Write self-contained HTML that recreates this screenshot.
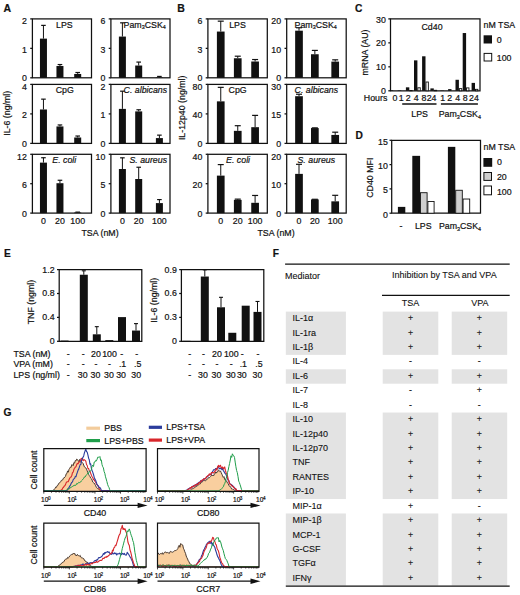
<!DOCTYPE html>
<html><head><meta charset="utf-8"><style>
html,body{margin:0;padding:0;background:#fff;}
body{width:520px;height:595px;overflow:hidden;}
svg{display:block;font-family:"Liberation Sans", sans-serif;}
text{stroke:#111;stroke-width:0.2px;paint-order:stroke;}
text.t{stroke-width:0.1px;}
</style></head><body>
<svg width="520" height="595" viewBox="0 0 520 595">
<text x="3.60" y="11.90" font-size="10.5" text-anchor="start" font-weight="bold" fill="#111">A</text>
<rect x="32.40" y="18.90" width="59.10" height="58.90" fill="none" stroke="#111" stroke-width="1.25"/>
<line x1="30.20" y1="77.80" x2="32.40" y2="77.80" stroke="#111" stroke-width="1.25"/>
<text x="26.80" y="81.25" font-size="8.8" text-anchor="end" fill="#111">0</text>
<line x1="30.20" y1="48.35" x2="32.40" y2="48.35" stroke="#111" stroke-width="1.25"/>
<text x="26.80" y="52.70" font-size="8.8" text-anchor="end" fill="#111">1</text>
<line x1="30.20" y1="18.90" x2="32.40" y2="18.90" stroke="#111" stroke-width="1.25"/>
<text x="26.80" y="24.15" font-size="8.8" text-anchor="end" fill="#111">2</text>
<line x1="43.45" y1="25.38" x2="43.45" y2="38.63" stroke="#111" stroke-width="1.0"/>
<line x1="41.15" y1="25.38" x2="45.75" y2="25.38" stroke="#111" stroke-width="1.2"/>
<rect x="39.95" y="38.63" width="7.00" height="39.17" fill="#111"/>
<line x1="59.95" y1="64.55" x2="59.95" y2="66.02" stroke="#111" stroke-width="1.0"/>
<line x1="57.65" y1="64.55" x2="62.25" y2="64.55" stroke="#111" stroke-width="1.2"/>
<rect x="56.45" y="66.02" width="7.00" height="11.78" fill="#111"/>
<line x1="77.70" y1="72.50" x2="77.70" y2="73.97" stroke="#111" stroke-width="1.0"/>
<line x1="75.40" y1="72.50" x2="80.00" y2="72.50" stroke="#111" stroke-width="1.2"/>
<rect x="74.20" y="73.97" width="7.00" height="3.83" fill="#111"/>
<text x="56.10" y="27.50" font-size="8.8" text-anchor="start" fill="#111">LPS</text>
<rect x="110.90" y="18.90" width="59.10" height="58.90" fill="none" stroke="#111" stroke-width="1.25"/>
<line x1="108.70" y1="77.80" x2="110.90" y2="77.80" stroke="#111" stroke-width="1.25"/>
<text x="105.30" y="81.25" font-size="8.8" text-anchor="end" fill="#111">0</text>
<line x1="108.70" y1="48.35" x2="110.90" y2="48.35" stroke="#111" stroke-width="1.25"/>
<text x="105.30" y="52.70" font-size="8.8" text-anchor="end" fill="#111">3</text>
<line x1="108.70" y1="18.90" x2="110.90" y2="18.90" stroke="#111" stroke-width="1.25"/>
<text x="105.30" y="24.15" font-size="8.8" text-anchor="end" fill="#111">6</text>
<line x1="122.40" y1="22.83" x2="122.40" y2="36.57" stroke="#111" stroke-width="1.0"/>
<line x1="120.10" y1="22.83" x2="124.70" y2="22.83" stroke="#111" stroke-width="1.2"/>
<rect x="118.90" y="36.57" width="7.00" height="41.23" fill="#111"/>
<line x1="138.70" y1="62.09" x2="138.70" y2="65.53" stroke="#111" stroke-width="1.0"/>
<line x1="136.40" y1="62.09" x2="141.00" y2="62.09" stroke="#111" stroke-width="1.2"/>
<rect x="135.20" y="65.53" width="7.00" height="12.27" fill="#111"/>
<line x1="159.40" y1="76.43" x2="159.40" y2="77.41" stroke="#111" stroke-width="1.0"/>
<line x1="157.10" y1="76.43" x2="161.70" y2="76.43" stroke="#111" stroke-width="1.2"/>
<rect x="155.90" y="77.41" width="7.00" height="0.39" fill="#111"/>
<text x="123.60" y="27.50" font-size="8.8" text-anchor="start" fill="#111">Pam<tspan font-size="5.4" dy="1.9">3</tspan><tspan dy="-1.9">CSK</tspan><tspan font-size="5.4" dy="1.9">4</tspan></text>
<rect x="32.40" y="84.40" width="59.10" height="59.00" fill="none" stroke="#111" stroke-width="1.25"/>
<line x1="30.20" y1="143.40" x2="32.40" y2="143.40" stroke="#111" stroke-width="1.25"/>
<text x="26.80" y="146.85" font-size="8.8" text-anchor="end" fill="#111">0</text>
<line x1="30.20" y1="113.90" x2="32.40" y2="113.90" stroke="#111" stroke-width="1.25"/>
<text x="26.80" y="118.25" font-size="8.8" text-anchor="end" fill="#111">2</text>
<line x1="30.20" y1="84.40" x2="32.40" y2="84.40" stroke="#111" stroke-width="1.25"/>
<text x="26.80" y="89.65" font-size="8.8" text-anchor="end" fill="#111">4</text>
<line x1="43.45" y1="99.15" x2="43.45" y2="109.48" stroke="#111" stroke-width="1.0"/>
<line x1="41.15" y1="99.15" x2="45.75" y2="99.15" stroke="#111" stroke-width="1.2"/>
<rect x="39.95" y="109.48" width="7.00" height="33.92" fill="#111"/>
<line x1="59.95" y1="124.96" x2="59.95" y2="126.44" stroke="#111" stroke-width="1.0"/>
<line x1="57.65" y1="124.96" x2="62.25" y2="124.96" stroke="#111" stroke-width="1.2"/>
<rect x="56.45" y="126.44" width="7.00" height="16.96" fill="#111"/>
<line x1="77.70" y1="136.03" x2="77.70" y2="137.50" stroke="#111" stroke-width="1.0"/>
<line x1="75.40" y1="136.03" x2="80.00" y2="136.03" stroke="#111" stroke-width="1.2"/>
<rect x="74.20" y="137.50" width="7.00" height="5.90" fill="#111"/>
<text x="55.70" y="93.00" font-size="8.8" text-anchor="start" fill="#111">CpG</text>
<rect x="110.90" y="84.40" width="59.10" height="59.00" fill="none" stroke="#111" stroke-width="1.25"/>
<line x1="108.70" y1="143.40" x2="110.90" y2="143.40" stroke="#111" stroke-width="1.25"/>
<text x="105.30" y="146.85" font-size="8.8" text-anchor="end" fill="#111">0</text>
<line x1="108.70" y1="113.90" x2="110.90" y2="113.90" stroke="#111" stroke-width="1.25"/>
<text x="105.30" y="118.25" font-size="8.8" text-anchor="end" fill="#111">1</text>
<line x1="108.70" y1="84.40" x2="110.90" y2="84.40" stroke="#111" stroke-width="1.25"/>
<text x="105.30" y="89.65" font-size="8.8" text-anchor="end" fill="#111">2</text>
<line x1="122.40" y1="91.19" x2="122.40" y2="108.89" stroke="#111" stroke-width="1.0"/>
<line x1="120.10" y1="91.19" x2="124.70" y2="91.19" stroke="#111" stroke-width="1.2"/>
<rect x="118.90" y="108.89" width="7.00" height="34.52" fill="#111"/>
<line x1="138.70" y1="109.77" x2="138.70" y2="111.39" stroke="#111" stroke-width="1.0"/>
<line x1="136.40" y1="109.77" x2="141.00" y2="109.77" stroke="#111" stroke-width="1.2"/>
<rect x="135.20" y="111.39" width="7.00" height="32.01" fill="#111"/>
<line x1="159.40" y1="135.14" x2="159.40" y2="138.09" stroke="#111" stroke-width="1.0"/>
<line x1="157.10" y1="135.14" x2="161.70" y2="135.14" stroke="#111" stroke-width="1.2"/>
<rect x="155.90" y="138.09" width="7.00" height="5.31" fill="#111"/>
<text x="123.60" y="93.00" font-size="8.8" text-anchor="start" font-style="italic" fill="#111">C. albicans</text>
<rect x="32.40" y="154.30" width="59.10" height="58.80" fill="none" stroke="#111" stroke-width="1.25"/>
<line x1="30.20" y1="213.10" x2="32.40" y2="213.10" stroke="#111" stroke-width="1.25"/>
<text x="26.80" y="216.55" font-size="8.8" text-anchor="end" fill="#111">0</text>
<line x1="30.20" y1="183.70" x2="32.40" y2="183.70" stroke="#111" stroke-width="1.25"/>
<text x="26.80" y="188.05" font-size="8.8" text-anchor="end" fill="#111">6</text>
<line x1="30.20" y1="154.30" x2="32.40" y2="154.30" stroke="#111" stroke-width="1.25"/>
<text x="26.80" y="159.55" font-size="8.8" text-anchor="end" fill="#111">12</text>
<line x1="43.45" y1="157.73" x2="43.45" y2="162.63" stroke="#111" stroke-width="1.0"/>
<line x1="41.15" y1="157.73" x2="45.75" y2="157.73" stroke="#111" stroke-width="1.2"/>
<rect x="39.95" y="162.63" width="7.00" height="50.47" fill="#111"/>
<line x1="59.95" y1="180.27" x2="59.95" y2="183.21" stroke="#111" stroke-width="1.0"/>
<line x1="57.65" y1="180.27" x2="62.25" y2="180.27" stroke="#111" stroke-width="1.2"/>
<rect x="56.45" y="183.21" width="7.00" height="29.89" fill="#111"/>
<line x1="77.70" y1="212.12" x2="77.70" y2="212.51" stroke="#111" stroke-width="1.0"/>
<line x1="75.40" y1="212.12" x2="80.00" y2="212.12" stroke="#111" stroke-width="1.2"/>
<rect x="74.20" y="212.51" width="7.00" height="0.59" fill="#111"/>
<text x="52.30" y="162.90" font-size="8.8" text-anchor="start" font-style="italic" fill="#111">E. coli</text>
<rect x="110.90" y="154.30" width="59.10" height="58.80" fill="none" stroke="#111" stroke-width="1.25"/>
<line x1="108.70" y1="213.10" x2="110.90" y2="213.10" stroke="#111" stroke-width="1.25"/>
<text x="105.30" y="216.55" font-size="8.8" text-anchor="end" fill="#111">0</text>
<line x1="108.70" y1="183.70" x2="110.90" y2="183.70" stroke="#111" stroke-width="1.25"/>
<text x="105.30" y="188.05" font-size="8.8" text-anchor="end" fill="#111">5</text>
<line x1="108.70" y1="154.30" x2="110.90" y2="154.30" stroke="#111" stroke-width="1.25"/>
<text x="105.30" y="159.55" font-size="8.8" text-anchor="end" fill="#111">10</text>
<line x1="122.40" y1="157.83" x2="122.40" y2="169.00" stroke="#111" stroke-width="1.0"/>
<line x1="120.10" y1="157.83" x2="124.70" y2="157.83" stroke="#111" stroke-width="1.2"/>
<rect x="118.90" y="169.00" width="7.00" height="44.10" fill="#111"/>
<line x1="138.70" y1="167.24" x2="138.70" y2="179.00" stroke="#111" stroke-width="1.0"/>
<line x1="136.40" y1="167.24" x2="141.00" y2="167.24" stroke="#111" stroke-width="1.2"/>
<rect x="135.20" y="179.00" width="7.00" height="34.10" fill="#111"/>
<line x1="159.40" y1="199.58" x2="159.40" y2="203.10" stroke="#111" stroke-width="1.0"/>
<line x1="157.10" y1="199.58" x2="161.70" y2="199.58" stroke="#111" stroke-width="1.2"/>
<rect x="155.90" y="203.10" width="7.00" height="10.00" fill="#111"/>
<text x="129.40" y="162.90" font-size="8.8" text-anchor="start" font-style="italic" fill="#111">S. aureus</text>
<text x="43.45" y="223.90" font-size="8.8" text-anchor="middle" fill="#111">0</text>
<text x="59.95" y="223.90" font-size="8.8" text-anchor="middle" fill="#111">20</text>
<text x="77.70" y="223.90" font-size="8.8" text-anchor="middle" fill="#111">100</text>
<text x="122.40" y="223.90" font-size="8.8" text-anchor="middle" fill="#111">0</text>
<text x="138.70" y="223.90" font-size="8.8" text-anchor="middle" fill="#111">20</text>
<text x="159.40" y="223.90" font-size="8.8" text-anchor="middle" fill="#111">100</text>
<text x="100.00" y="236.20" font-size="8.8" text-anchor="middle" fill="#111">TSA (nM)</text>
<text x="10.00" y="113.30" font-size="8.8" text-anchor="middle" fill="#111" transform="rotate(-90 10.0 113.3)">IL-6 (ng/ml)</text>
<text x="177.30" y="11.90" font-size="10.5" text-anchor="start" font-weight="bold" fill="#111">B</text>
<rect x="207.90" y="18.90" width="59.40" height="58.90" fill="none" stroke="#111" stroke-width="1.25"/>
<line x1="205.70" y1="77.80" x2="207.90" y2="77.80" stroke="#111" stroke-width="1.25"/>
<text x="202.30" y="81.25" font-size="8.8" text-anchor="end" fill="#111">0</text>
<line x1="205.70" y1="48.35" x2="207.90" y2="48.35" stroke="#111" stroke-width="1.25"/>
<text x="202.30" y="52.70" font-size="8.8" text-anchor="end" fill="#111">3</text>
<line x1="205.70" y1="18.90" x2="207.90" y2="18.90" stroke="#111" stroke-width="1.25"/>
<text x="202.30" y="24.15" font-size="8.8" text-anchor="end" fill="#111">6</text>
<line x1="220.75" y1="21.16" x2="220.75" y2="31.56" stroke="#111" stroke-width="1.0"/>
<line x1="217.75" y1="21.16" x2="223.75" y2="21.16" stroke="#111" stroke-width="1.2"/>
<rect x="216.90" y="31.56" width="7.70" height="46.24" fill="#111"/>
<line x1="237.75" y1="56.20" x2="237.75" y2="58.26" stroke="#111" stroke-width="1.0"/>
<line x1="234.75" y1="56.20" x2="240.75" y2="56.20" stroke="#111" stroke-width="1.2"/>
<rect x="233.90" y="58.26" width="7.70" height="19.54" fill="#111"/>
<line x1="255.10" y1="59.54" x2="255.10" y2="61.50" stroke="#111" stroke-width="1.0"/>
<line x1="252.10" y1="59.54" x2="258.10" y2="59.54" stroke="#111" stroke-width="1.2"/>
<rect x="251.25" y="61.50" width="7.70" height="16.30" fill="#111"/>
<text x="229.20" y="27.50" font-size="8.8" text-anchor="start" fill="#111">LPS</text>
<rect x="286.70" y="18.90" width="59.50" height="58.90" fill="none" stroke="#111" stroke-width="1.25"/>
<line x1="284.50" y1="77.80" x2="286.70" y2="77.80" stroke="#111" stroke-width="1.25"/>
<text x="281.10" y="81.25" font-size="8.8" text-anchor="end" fill="#111">0</text>
<line x1="284.50" y1="48.35" x2="286.70" y2="48.35" stroke="#111" stroke-width="1.25"/>
<text x="281.10" y="52.70" font-size="8.8" text-anchor="end" fill="#111">10</text>
<line x1="284.50" y1="18.90" x2="286.70" y2="18.90" stroke="#111" stroke-width="1.25"/>
<text x="281.10" y="24.15" font-size="8.8" text-anchor="end" fill="#111">20</text>
<line x1="299.00" y1="27.73" x2="299.00" y2="30.68" stroke="#111" stroke-width="1.0"/>
<line x1="296.00" y1="27.73" x2="302.00" y2="27.73" stroke="#111" stroke-width="1.2"/>
<rect x="295.15" y="30.68" width="7.70" height="47.12" fill="#111"/>
<line x1="314.85" y1="50.41" x2="314.85" y2="54.24" stroke="#111" stroke-width="1.0"/>
<line x1="311.85" y1="50.41" x2="317.85" y2="50.41" stroke="#111" stroke-width="1.2"/>
<rect x="311.00" y="54.24" width="7.70" height="23.56" fill="#111"/>
<line x1="335.20" y1="59.84" x2="335.20" y2="61.60" stroke="#111" stroke-width="1.0"/>
<line x1="332.20" y1="59.84" x2="338.20" y2="59.84" stroke="#111" stroke-width="1.2"/>
<rect x="331.35" y="61.60" width="7.70" height="16.20" fill="#111"/>
<text x="294.60" y="27.50" font-size="8.8" text-anchor="start" fill="#111">Pam<tspan font-size="5.4" dy="1.9">3</tspan><tspan dy="-1.9">CSK</tspan><tspan font-size="5.4" dy="1.9">4</tspan></text>
<rect x="207.90" y="84.40" width="59.40" height="59.00" fill="none" stroke="#111" stroke-width="1.25"/>
<line x1="205.70" y1="143.40" x2="207.90" y2="143.40" stroke="#111" stroke-width="1.25"/>
<text x="202.30" y="146.85" font-size="8.8" text-anchor="end" fill="#111">0</text>
<line x1="205.70" y1="113.90" x2="207.90" y2="113.90" stroke="#111" stroke-width="1.25"/>
<text x="202.30" y="118.25" font-size="8.8" text-anchor="end" fill="#111">40</text>
<line x1="205.70" y1="84.40" x2="207.90" y2="84.40" stroke="#111" stroke-width="1.25"/>
<text x="202.30" y="89.65" font-size="8.8" text-anchor="end" fill="#111">80</text>
<line x1="220.75" y1="87.35" x2="220.75" y2="101.36" stroke="#111" stroke-width="1.0"/>
<line x1="217.75" y1="87.35" x2="223.75" y2="87.35" stroke="#111" stroke-width="1.2"/>
<rect x="216.90" y="101.36" width="7.70" height="42.04" fill="#111"/>
<line x1="237.75" y1="125.70" x2="237.75" y2="130.86" stroke="#111" stroke-width="1.0"/>
<line x1="234.75" y1="125.70" x2="240.75" y2="125.70" stroke="#111" stroke-width="1.2"/>
<rect x="233.90" y="130.86" width="7.70" height="12.54" fill="#111"/>
<line x1="255.10" y1="115.38" x2="255.10" y2="127.18" stroke="#111" stroke-width="1.0"/>
<line x1="252.10" y1="115.38" x2="258.10" y2="115.38" stroke="#111" stroke-width="1.2"/>
<rect x="251.25" y="127.18" width="7.70" height="16.22" fill="#111"/>
<text x="228.60" y="93.00" font-size="8.8" text-anchor="start" fill="#111">CpG</text>
<rect x="286.70" y="84.40" width="59.50" height="59.00" fill="none" stroke="#111" stroke-width="1.25"/>
<line x1="284.50" y1="143.40" x2="286.70" y2="143.40" stroke="#111" stroke-width="1.25"/>
<text x="281.10" y="146.85" font-size="8.8" text-anchor="end" fill="#111">0</text>
<line x1="284.50" y1="113.90" x2="286.70" y2="113.90" stroke="#111" stroke-width="1.25"/>
<text x="281.10" y="118.25" font-size="8.8" text-anchor="end" fill="#111">15</text>
<line x1="284.50" y1="84.40" x2="286.70" y2="84.40" stroke="#111" stroke-width="1.25"/>
<text x="281.10" y="89.65" font-size="8.8" text-anchor="end" fill="#111">30</text>
<line x1="299.00" y1="94.23" x2="299.00" y2="96.20" stroke="#111" stroke-width="1.0"/>
<line x1="296.00" y1="94.23" x2="302.00" y2="94.23" stroke="#111" stroke-width="1.2"/>
<rect x="295.15" y="96.20" width="7.70" height="47.20" fill="#111"/>
<line x1="314.85" y1="127.86" x2="314.85" y2="128.06" stroke="#111" stroke-width="1.0"/>
<line x1="311.85" y1="127.86" x2="317.85" y2="127.86" stroke="#111" stroke-width="1.2"/>
<rect x="311.00" y="128.06" width="7.70" height="15.34" fill="#111"/>
<line x1="335.20" y1="132.19" x2="335.20" y2="134.94" stroke="#111" stroke-width="1.0"/>
<line x1="332.20" y1="132.19" x2="338.20" y2="132.19" stroke="#111" stroke-width="1.2"/>
<rect x="331.35" y="134.94" width="7.70" height="8.46" fill="#111"/>
<text x="294.60" y="93.00" font-size="8.8" text-anchor="start" font-style="italic" fill="#111">C. albicans</text>
<rect x="207.90" y="154.30" width="59.40" height="58.80" fill="none" stroke="#111" stroke-width="1.25"/>
<line x1="205.70" y1="213.10" x2="207.90" y2="213.10" stroke="#111" stroke-width="1.25"/>
<text x="202.30" y="216.55" font-size="8.8" text-anchor="end" fill="#111">0</text>
<line x1="205.70" y1="183.70" x2="207.90" y2="183.70" stroke="#111" stroke-width="1.25"/>
<text x="202.30" y="188.05" font-size="8.8" text-anchor="end" fill="#111">20</text>
<line x1="205.70" y1="154.30" x2="207.90" y2="154.30" stroke="#111" stroke-width="1.25"/>
<text x="202.30" y="159.55" font-size="8.8" text-anchor="end" fill="#111">40</text>
<line x1="220.75" y1="164.59" x2="220.75" y2="175.62" stroke="#111" stroke-width="1.0"/>
<line x1="217.75" y1="164.59" x2="223.75" y2="164.59" stroke="#111" stroke-width="1.2"/>
<rect x="216.90" y="175.62" width="7.70" height="37.48" fill="#111"/>
<line x1="237.75" y1="199.13" x2="237.75" y2="199.87" stroke="#111" stroke-width="1.0"/>
<line x1="234.75" y1="199.13" x2="240.75" y2="199.13" stroke="#111" stroke-width="1.2"/>
<rect x="233.90" y="199.87" width="7.70" height="13.23" fill="#111"/>
<line x1="255.10" y1="195.46" x2="255.10" y2="202.81" stroke="#111" stroke-width="1.0"/>
<line x1="252.10" y1="195.46" x2="258.10" y2="195.46" stroke="#111" stroke-width="1.2"/>
<rect x="251.25" y="202.81" width="7.70" height="10.29" fill="#111"/>
<text x="226.10" y="162.90" font-size="8.8" text-anchor="start" font-style="italic" fill="#111">E. coli</text>
<rect x="286.70" y="154.30" width="59.50" height="58.80" fill="none" stroke="#111" stroke-width="1.25"/>
<line x1="284.50" y1="213.10" x2="286.70" y2="213.10" stroke="#111" stroke-width="1.25"/>
<text x="281.10" y="216.55" font-size="8.8" text-anchor="end" fill="#111">0</text>
<line x1="284.50" y1="183.70" x2="286.70" y2="183.70" stroke="#111" stroke-width="1.25"/>
<text x="281.10" y="188.05" font-size="8.8" text-anchor="end" fill="#111">10</text>
<line x1="284.50" y1="154.30" x2="286.70" y2="154.30" stroke="#111" stroke-width="1.25"/>
<text x="281.10" y="159.55" font-size="8.8" text-anchor="end" fill="#111">20</text>
<line x1="299.00" y1="164.30" x2="299.00" y2="173.88" stroke="#111" stroke-width="1.0"/>
<line x1="296.00" y1="164.30" x2="302.00" y2="164.30" stroke="#111" stroke-width="1.2"/>
<rect x="295.15" y="173.88" width="7.70" height="39.22" fill="#111"/>
<line x1="314.85" y1="199.28" x2="314.85" y2="199.43" stroke="#111" stroke-width="1.0"/>
<line x1="311.85" y1="199.28" x2="317.85" y2="199.28" stroke="#111" stroke-width="1.2"/>
<rect x="311.00" y="199.43" width="7.70" height="13.67" fill="#111"/>
<line x1="335.20" y1="195.31" x2="335.20" y2="201.34" stroke="#111" stroke-width="1.0"/>
<line x1="332.20" y1="195.31" x2="338.20" y2="195.31" stroke="#111" stroke-width="1.2"/>
<rect x="331.35" y="201.34" width="7.70" height="11.76" fill="#111"/>
<text x="297.50" y="162.90" font-size="8.8" text-anchor="start" font-style="italic" fill="#111">S. aureus</text>
<text x="220.75" y="223.90" font-size="8.8" text-anchor="middle" fill="#111">0</text>
<text x="237.75" y="223.90" font-size="8.8" text-anchor="middle" fill="#111">20</text>
<text x="255.10" y="223.90" font-size="8.8" text-anchor="middle" fill="#111">100</text>
<text x="299.00" y="223.90" font-size="8.8" text-anchor="middle" fill="#111">0</text>
<text x="314.85" y="223.90" font-size="8.8" text-anchor="middle" fill="#111">20</text>
<text x="335.20" y="223.90" font-size="8.8" text-anchor="middle" fill="#111">100</text>
<text x="276.00" y="236.20" font-size="8.8" text-anchor="middle" fill="#111">TSA (nM)</text>
<text x="185.30" y="107.80" font-size="8.8" text-anchor="middle" fill="#111" transform="rotate(-90 185.3 107.8)">IL-12p40 (ng/ml)</text>
<text x="355.00" y="12.30" font-size="10.2" text-anchor="start" font-weight="bold" fill="#111">C</text>
<path d="M390.5 18.9 H480.0 V90.8 H390.5 Z" fill="none" stroke="#111" stroke-width="1.25"/>
<line x1="388.30" y1="90.80" x2="390.50" y2="90.80" stroke="#111" stroke-width="1.25"/>
<text x="385.90" y="94.40" font-size="8.8" text-anchor="end" fill="#111">0</text>
<line x1="388.30" y1="66.83" x2="390.50" y2="66.83" stroke="#111" stroke-width="1.25"/>
<text x="385.90" y="70.43" font-size="8.8" text-anchor="end" fill="#111">10</text>
<line x1="388.30" y1="42.87" x2="390.50" y2="42.87" stroke="#111" stroke-width="1.25"/>
<text x="385.90" y="46.47" font-size="8.8" text-anchor="end" fill="#111">20</text>
<line x1="388.30" y1="18.90" x2="390.50" y2="18.90" stroke="#111" stroke-width="1.25"/>
<text x="385.90" y="22.50" font-size="8.8" text-anchor="end" fill="#111">30</text>
<text x="368.40" y="52.50" font-size="8.8" text-anchor="middle" fill="#111" transform="rotate(-90 368.4 52.5)">mRNA (AU)</text>
<text x="421.50" y="29.80" font-size="8.8" text-anchor="start" fill="#111">Cd40</text>
<rect x="389.80" y="90.20" width="3.40" height="0.60" fill="#111"/>
<rect x="397.80" y="90.32" width="3.40" height="0.48" fill="#111"/>
<rect x="405.90" y="87.32" width="3.40" height="3.48" fill="#111"/>
<rect x="409.75" y="90.53" width="2.40" height="0.27" fill="#fff" stroke="#111" stroke-width="0.9"/>
<rect x="414.00" y="60.36" width="3.40" height="30.44" fill="#111"/>
<rect x="417.85" y="87.77" width="2.40" height="3.03" fill="#fff" stroke="#111" stroke-width="0.9"/>
<rect x="422.10" y="56.29" width="3.40" height="34.51" fill="#111"/>
<rect x="425.95" y="82.02" width="2.40" height="8.78" fill="#fff" stroke="#111" stroke-width="0.9"/>
<rect x="430.40" y="88.40" width="3.40" height="2.40" fill="#111"/>
<rect x="434.25" y="90.29" width="2.40" height="0.51" fill="#fff" stroke="#111" stroke-width="0.9"/>
<rect x="440.40" y="90.44" width="3.40" height="0.36" fill="#111"/>
<rect x="448.10" y="89.12" width="3.40" height="1.68" fill="#111"/>
<rect x="455.50" y="79.78" width="3.40" height="11.02" fill="#111"/>
<rect x="459.35" y="88.61" width="2.40" height="2.19" fill="#fff" stroke="#111" stroke-width="0.9"/>
<rect x="462.70" y="33.04" width="3.40" height="57.76" fill="#111"/>
<rect x="466.55" y="87.89" width="2.40" height="2.91" fill="#fff" stroke="#111" stroke-width="0.9"/>
<rect x="471.60" y="82.89" width="3.40" height="7.91" fill="#111"/>
<rect x="475.45" y="89.33" width="2.40" height="1.47" fill="#fff" stroke="#111" stroke-width="0.9"/>
<text x="387.30" y="100.80" font-size="8.8" text-anchor="end" fill="#111">Hours</text>
<text x="395.00" y="100.80" font-size="8.8" text-anchor="middle" fill="#111">0</text>
<text x="401.20" y="100.80" font-size="8.8" text-anchor="middle" fill="#111">1</text>
<text x="408.20" y="100.80" font-size="8.8" text-anchor="middle" fill="#111">2</text>
<text x="416.30" y="100.80" font-size="8.8" text-anchor="middle" fill="#111">4</text>
<text x="424.00" y="100.80" font-size="8.8" text-anchor="middle" fill="#111">8</text>
<text x="431.60" y="100.80" font-size="8.8" text-anchor="middle" fill="#111">24</text>
<text x="442.60" y="100.80" font-size="8.8" text-anchor="middle" fill="#111">1</text>
<text x="449.80" y="100.80" font-size="8.8" text-anchor="middle" fill="#111">2</text>
<text x="457.70" y="100.80" font-size="8.8" text-anchor="middle" fill="#111">4</text>
<text x="465.30" y="100.80" font-size="8.8" text-anchor="middle" fill="#111">8</text>
<text x="474.00" y="100.80" font-size="8.8" text-anchor="middle" fill="#111">24</text>
<line x1="402.20" y1="104.00" x2="436.50" y2="104.00" stroke="#111" stroke-width="1.3"/>
<line x1="440.90" y1="104.00" x2="477.90" y2="104.00" stroke="#111" stroke-width="1.3"/>
<text x="419.60" y="117.00" font-size="8.8" text-anchor="middle" fill="#111">LPS</text>
<text x="438.70" y="117.00" font-size="8.8" text-anchor="start" fill="#111">Pam<tspan font-size="5.4" dy="1.9">3</tspan><tspan dy="-1.9">CSK</tspan><tspan font-size="5.4" dy="1.9">4</tspan></text>
<text x="483.50" y="27.60" font-size="8.8" text-anchor="start" fill="#111">nM TSA</text>
<rect x="483.60" y="35.30" width="8.40" height="8.20" fill="#111"/>
<rect x="484.10" y="53.40" width="7.60" height="7.60" fill="#fff" stroke="#111" stroke-width="1.0"/>
<text x="496.80" y="42.80" font-size="8.8" text-anchor="start" fill="#111">0</text>
<text x="496.80" y="60.80" font-size="8.8" text-anchor="start" fill="#111">100</text>
<text x="355.50" y="139.00" font-size="10.2" text-anchor="start" font-weight="bold" fill="#111">D</text>
<path d="M391.7 140.3 H480.5 V213.2 H391.7 Z" fill="none" stroke="#111" stroke-width="1.25"/>
<line x1="389.50" y1="213.20" x2="391.70" y2="213.20" stroke="#111" stroke-width="1.25"/>
<text x="387.80" y="217.60" font-size="8.8" text-anchor="end" fill="#111">0</text>
<line x1="389.50" y1="188.90" x2="391.70" y2="188.90" stroke="#111" stroke-width="1.25"/>
<text x="387.80" y="193.30" font-size="8.8" text-anchor="end" fill="#111">5</text>
<line x1="389.50" y1="164.60" x2="391.70" y2="164.60" stroke="#111" stroke-width="1.25"/>
<text x="387.80" y="169.00" font-size="8.8" text-anchor="end" fill="#111">10</text>
<line x1="389.50" y1="140.30" x2="391.70" y2="140.30" stroke="#111" stroke-width="1.25"/>
<text x="387.80" y="144.70" font-size="8.8" text-anchor="end" fill="#111">15</text>
<text x="373.00" y="177.70" font-size="8.8" text-anchor="middle" fill="#111" transform="rotate(-90 373.0 177.7)">CD40 MFI</text>
<rect x="397.90" y="206.88" width="7.40" height="6.32" fill="#111"/>
<rect x="412.30" y="155.85" width="7.80" height="57.35" fill="#111"/>
<rect x="420.50" y="192.70" width="6.60" height="20.50" fill="#cfcfcf" stroke="#111" stroke-width="0.9"/>
<rect x="427.90" y="201.45" width="6.20" height="11.75" fill="#fff" stroke="#111" stroke-width="0.9"/>
<rect x="447.90" y="146.86" width="7.40" height="66.34" fill="#111"/>
<rect x="455.70" y="190.27" width="6.60" height="22.93" fill="#cfcfcf" stroke="#111" stroke-width="0.9"/>
<rect x="463.10" y="199.02" width="6.60" height="14.18" fill="#fff" stroke="#111" stroke-width="0.9"/>
<text x="400.90" y="229.40" font-size="8.8" text-anchor="middle" fill="#111">-</text>
<text x="423.20" y="229.40" font-size="8.8" text-anchor="middle" fill="#111">LPS</text>
<text x="438.90" y="229.40" font-size="8.8" text-anchor="start" fill="#111">Pam<tspan font-size="5.4" dy="1.9">3</tspan><tspan dy="-1.9">CSK</tspan><tspan font-size="5.4" dy="1.9">4</tspan></text>
<text x="483.50" y="149.80" font-size="8.8" text-anchor="start" fill="#111">nM TSA</text>
<rect x="483.40" y="158.00" width="8.80" height="8.80" fill="#111"/>
<rect x="483.90" y="172.50" width="7.60" height="7.90" fill="#cfcfcf" stroke="#111" stroke-width="1.0"/>
<rect x="483.90" y="186.00" width="7.60" height="8.80" fill="#fff" stroke="#111" stroke-width="1.0"/>
<text x="496.90" y="165.40" font-size="8.8" text-anchor="start" fill="#111">0</text>
<text x="496.90" y="180.10" font-size="8.8" text-anchor="start" fill="#111">20</text>
<text x="496.90" y="195.20" font-size="8.8" text-anchor="start" fill="#111">100</text>
<text x="4.00" y="257.00" font-size="10.2" text-anchor="start" font-weight="bold" fill="#111">E</text>
<path d="M59.2 269.6 H141.8 V341.3 H59.2 Z" fill="none" stroke="#111" stroke-width="1.25"/>
<line x1="57.00" y1="341.30" x2="59.20" y2="341.30" stroke="#111" stroke-width="1.25"/>
<text x="54.60" y="344.20" font-size="8.8" text-anchor="end" fill="#111">0</text>
<line x1="57.00" y1="317.40" x2="59.20" y2="317.40" stroke="#111" stroke-width="1.25"/>
<text x="54.60" y="320.30" font-size="8.8" text-anchor="end" fill="#111">0.4</text>
<line x1="57.00" y1="293.50" x2="59.20" y2="293.50" stroke="#111" stroke-width="1.25"/>
<text x="54.60" y="296.40" font-size="8.8" text-anchor="end" fill="#111">0.8</text>
<line x1="57.00" y1="269.60" x2="59.20" y2="269.60" stroke="#111" stroke-width="1.25"/>
<text x="54.60" y="272.50" font-size="8.8" text-anchor="end" fill="#111">1.2</text>
<rect x="60.60" y="340.58" width="8.00" height="0.72" fill="#111"/>
<line x1="83.80" y1="270.80" x2="83.80" y2="274.74" stroke="#111" stroke-width="1.0"/>
<line x1="81.80" y1="270.80" x2="85.80" y2="270.80" stroke="#111" stroke-width="1.1"/>
<rect x="79.80" y="274.74" width="8.00" height="66.56" fill="#111"/>
<line x1="96.80" y1="326.66" x2="96.80" y2="334.31" stroke="#111" stroke-width="1.0"/>
<line x1="94.80" y1="326.66" x2="98.80" y2="326.66" stroke="#111" stroke-width="1.1"/>
<rect x="92.80" y="334.31" width="8.00" height="6.99" fill="#111"/>
<rect x="105.30" y="340.11" width="8.00" height="1.19" fill="#111"/>
<rect x="118.00" y="317.10" width="8.00" height="24.20" fill="#111"/>
<line x1="136.00" y1="323.61" x2="136.00" y2="330.55" stroke="#111" stroke-width="1.0"/>
<line x1="134.00" y1="323.61" x2="138.00" y2="323.61" stroke="#111" stroke-width="1.1"/>
<rect x="132.00" y="330.55" width="8.00" height="10.75" fill="#111"/>
<text x="34.30" y="302.00" font-size="8.8" text-anchor="middle" fill="#111" transform="rotate(-90 34.3 302.0)">TNF (ngml)</text>
<path d="M181.4 269.6 H263.8 V341.3 H181.4 Z" fill="none" stroke="#111" stroke-width="1.25"/>
<line x1="179.20" y1="341.30" x2="181.40" y2="341.30" stroke="#111" stroke-width="1.25"/>
<text x="176.80" y="344.20" font-size="8.8" text-anchor="end" fill="#111">0</text>
<line x1="179.20" y1="317.40" x2="181.40" y2="317.40" stroke="#111" stroke-width="1.25"/>
<text x="176.80" y="320.30" font-size="8.8" text-anchor="end" fill="#111">0.3</text>
<line x1="179.20" y1="293.50" x2="181.40" y2="293.50" stroke="#111" stroke-width="1.25"/>
<text x="176.80" y="296.40" font-size="8.8" text-anchor="end" fill="#111">0.6</text>
<line x1="179.20" y1="269.60" x2="181.40" y2="269.60" stroke="#111" stroke-width="1.25"/>
<text x="176.80" y="272.50" font-size="8.8" text-anchor="end" fill="#111">0.9</text>
<rect x="182.50" y="340.82" width="8.00" height="0.48" fill="#111"/>
<line x1="204.80" y1="269.84" x2="204.80" y2="276.53" stroke="#111" stroke-width="1.0"/>
<line x1="202.80" y1="269.84" x2="206.80" y2="269.84" stroke="#111" stroke-width="1.1"/>
<rect x="200.80" y="276.53" width="8.00" height="64.77" fill="#111"/>
<line x1="221.00" y1="297.32" x2="221.00" y2="307.28" stroke="#111" stroke-width="1.0"/>
<line x1="219.00" y1="297.32" x2="223.00" y2="297.32" stroke="#111" stroke-width="1.1"/>
<rect x="217.00" y="307.28" width="8.00" height="34.02" fill="#111"/>
<rect x="228.30" y="332.78" width="8.00" height="8.52" fill="#111"/>
<rect x="241.70" y="305.69" width="8.00" height="35.61" fill="#111"/>
<line x1="257.50" y1="301.47" x2="257.50" y2="311.90" stroke="#111" stroke-width="1.0"/>
<line x1="255.50" y1="301.47" x2="259.50" y2="301.47" stroke="#111" stroke-width="1.1"/>
<rect x="253.50" y="311.90" width="8.00" height="29.40" fill="#111"/>
<text x="157.20" y="300.30" font-size="8.8" text-anchor="middle" fill="#111" transform="rotate(-90 157.2 300.3)">IL-6 (ng/ml)</text>
<text x="13.40" y="356.90" font-size="8.8" text-anchor="start" fill="#111">TSA (nM)</text>
<text x="13.40" y="367.20" font-size="8.8" text-anchor="start" fill="#111">VPA (mM)</text>
<text x="13.40" y="377.70" font-size="8.8" text-anchor="start" fill="#111">LPS (ng/ml)</text>
<text x="68.10" y="356.90" font-size="8.8" text-anchor="middle" fill="#111">-</text>
<text x="83.20" y="356.90" font-size="8.8" text-anchor="middle" fill="#111">-</text>
<text x="95.90" y="356.90" font-size="8.8" text-anchor="middle" fill="#111">20</text>
<text x="109.50" y="356.90" font-size="8.8" text-anchor="middle" fill="#111">100</text>
<text x="121.60" y="356.90" font-size="8.8" text-anchor="middle" fill="#111">-</text>
<text x="136.70" y="356.90" font-size="8.8" text-anchor="middle" fill="#111">-</text>
<text x="68.10" y="367.20" font-size="8.8" text-anchor="middle" fill="#111">-</text>
<text x="83.20" y="367.20" font-size="8.8" text-anchor="middle" fill="#111">-</text>
<text x="95.90" y="367.20" font-size="8.8" text-anchor="middle" fill="#111">-</text>
<text x="109.50" y="367.20" font-size="8.8" text-anchor="middle" fill="#111">-</text>
<text x="122.60" y="367.20" font-size="8.8" text-anchor="middle" fill="#111">.1</text>
<text x="137.70" y="367.20" font-size="8.8" text-anchor="middle" fill="#111">.5</text>
<text x="68.10" y="377.70" font-size="8.8" text-anchor="middle" fill="#111">-</text>
<text x="82.70" y="377.70" font-size="8.8" text-anchor="middle" fill="#111">30</text>
<text x="95.40" y="377.70" font-size="8.8" text-anchor="middle" fill="#111">30</text>
<text x="109.00" y="377.70" font-size="8.8" text-anchor="middle" fill="#111">30</text>
<text x="121.10" y="377.70" font-size="8.8" text-anchor="middle" fill="#111">30</text>
<text x="136.20" y="377.70" font-size="8.8" text-anchor="middle" fill="#111">30</text>
<text x="189.70" y="356.90" font-size="8.8" text-anchor="middle" fill="#111">-</text>
<text x="203.50" y="356.90" font-size="8.8" text-anchor="middle" fill="#111">-</text>
<text x="216.90" y="356.90" font-size="8.8" text-anchor="middle" fill="#111">20</text>
<text x="231.30" y="356.90" font-size="8.8" text-anchor="middle" fill="#111">100</text>
<text x="242.30" y="356.90" font-size="8.8" text-anchor="middle" fill="#111">-</text>
<text x="258.00" y="356.90" font-size="8.8" text-anchor="middle" fill="#111">-</text>
<text x="189.70" y="367.20" font-size="8.8" text-anchor="middle" fill="#111">-</text>
<text x="203.50" y="367.20" font-size="8.8" text-anchor="middle" fill="#111">-</text>
<text x="216.90" y="367.20" font-size="8.8" text-anchor="middle" fill="#111">-</text>
<text x="231.30" y="367.20" font-size="8.8" text-anchor="middle" fill="#111">-</text>
<text x="243.30" y="367.20" font-size="8.8" text-anchor="middle" fill="#111">.1</text>
<text x="259.00" y="367.20" font-size="8.8" text-anchor="middle" fill="#111">.5</text>
<text x="189.70" y="377.70" font-size="8.8" text-anchor="middle" fill="#111">-</text>
<text x="203.00" y="377.70" font-size="8.8" text-anchor="middle" fill="#111">30</text>
<text x="216.40" y="377.70" font-size="8.8" text-anchor="middle" fill="#111">30</text>
<text x="230.80" y="377.70" font-size="8.8" text-anchor="middle" fill="#111">30</text>
<text x="241.80" y="377.70" font-size="8.8" text-anchor="middle" fill="#111">30</text>
<text x="257.50" y="377.70" font-size="8.8" text-anchor="middle" fill="#111">30</text>
<text x="272.80" y="256.80" font-size="10.2" text-anchor="start" font-weight="bold" fill="#111">F</text>
<line x1="285.10" y1="264.20" x2="509.70" y2="264.20" stroke="#111" stroke-width="1.3"/>
<text x="285.10" y="279.00" font-size="9.0" text-anchor="start" class="t" fill="#111">Mediator</text>
<text x="444.30" y="278.30" font-size="9.0" text-anchor="middle" class="t" fill="#111">Inhibition by TSA and VPA</text>
<line x1="382.00" y1="295.40" x2="509.70" y2="295.40" stroke="#111" stroke-width="1.1"/>
<text x="410.60" y="306.30" font-size="9.0" text-anchor="middle" class="t" fill="#111">TSA</text>
<text x="479.90" y="306.30" font-size="9.0" text-anchor="middle" class="t" fill="#111">VPA</text>
<rect x="285.80" y="311.60" width="60.10" height="43.26" fill="#e3e3e3"/>
<rect x="382.70" y="311.60" width="55.60" height="43.26" fill="#e3e3e3"/>
<rect x="451.70" y="311.60" width="55.50" height="43.26" fill="#e3e3e3"/>
<rect x="285.80" y="369.28" width="60.10" height="14.42" fill="#e3e3e3"/>
<rect x="382.70" y="369.28" width="55.60" height="14.42" fill="#e3e3e3"/>
<rect x="451.70" y="369.28" width="55.50" height="14.42" fill="#e3e3e3"/>
<rect x="285.80" y="412.54" width="60.10" height="86.52" fill="#e3e3e3"/>
<rect x="382.70" y="412.54" width="55.60" height="86.52" fill="#e3e3e3"/>
<rect x="451.70" y="412.54" width="55.50" height="86.52" fill="#e3e3e3"/>
<rect x="285.80" y="513.48" width="60.10" height="72.10" fill="#e3e3e3"/>
<rect x="382.70" y="513.48" width="55.60" height="72.10" fill="#e3e3e3"/>
<rect x="451.70" y="513.48" width="55.50" height="72.10" fill="#e3e3e3"/>
<text x="292.40" y="321.20" font-size="9.0" text-anchor="start" class="t" fill="#111">IL-1&#945;</text>
<text x="410.50" y="321.20" font-size="8.8" text-anchor="middle" class="t" fill="#111">+</text>
<text x="479.20" y="321.20" font-size="8.8" text-anchor="middle" class="t" fill="#111">+</text>
<text x="292.40" y="335.62" font-size="9.0" text-anchor="start" class="t" fill="#111">IL-1ra</text>
<text x="410.50" y="335.62" font-size="8.8" text-anchor="middle" class="t" fill="#111">+</text>
<text x="479.20" y="335.62" font-size="8.8" text-anchor="middle" class="t" fill="#111">+</text>
<text x="292.40" y="350.04" font-size="9.0" text-anchor="start" class="t" fill="#111">IL-1&#946;</text>
<text x="410.50" y="350.04" font-size="8.8" text-anchor="middle" class="t" fill="#111">+</text>
<text x="479.20" y="350.04" font-size="8.8" text-anchor="middle" class="t" fill="#111">+</text>
<text x="292.40" y="364.46" font-size="9.0" text-anchor="start" class="t" fill="#111">IL-4</text>
<text x="410.50" y="364.46" font-size="8.8" text-anchor="middle" class="t" fill="#111">-</text>
<text x="479.20" y="364.46" font-size="8.8" text-anchor="middle" class="t" fill="#111">-</text>
<text x="292.40" y="378.88" font-size="9.0" text-anchor="start" class="t" fill="#111">IL-6</text>
<text x="410.50" y="378.88" font-size="8.8" text-anchor="middle" class="t" fill="#111">+</text>
<text x="479.20" y="378.88" font-size="8.8" text-anchor="middle" class="t" fill="#111">+</text>
<text x="292.40" y="393.30" font-size="9.0" text-anchor="start" class="t" fill="#111">IL-7</text>
<text x="410.50" y="393.30" font-size="8.8" text-anchor="middle" class="t" fill="#111">-</text>
<text x="479.20" y="393.30" font-size="8.8" text-anchor="middle" class="t" fill="#111">+</text>
<text x="292.40" y="407.72" font-size="9.0" text-anchor="start" class="t" fill="#111">IL-8</text>
<text x="410.50" y="407.72" font-size="8.8" text-anchor="middle" class="t" fill="#111">-</text>
<text x="479.20" y="407.72" font-size="8.8" text-anchor="middle" class="t" fill="#111">-</text>
<text x="292.40" y="422.14" font-size="9.0" text-anchor="start" class="t" fill="#111">IL-10</text>
<text x="410.50" y="422.14" font-size="8.8" text-anchor="middle" class="t" fill="#111">+</text>
<text x="479.20" y="422.14" font-size="8.8" text-anchor="middle" class="t" fill="#111">+</text>
<text x="292.40" y="436.56" font-size="9.0" text-anchor="start" class="t" fill="#111">IL-12p40</text>
<text x="410.50" y="436.56" font-size="8.8" text-anchor="middle" class="t" fill="#111">+</text>
<text x="479.20" y="436.56" font-size="8.8" text-anchor="middle" class="t" fill="#111">+</text>
<text x="292.40" y="450.98" font-size="9.0" text-anchor="start" class="t" fill="#111">IL-12p70</text>
<text x="410.50" y="450.98" font-size="8.8" text-anchor="middle" class="t" fill="#111">+</text>
<text x="479.20" y="450.98" font-size="8.8" text-anchor="middle" class="t" fill="#111">+</text>
<text x="292.40" y="465.40" font-size="9.0" text-anchor="start" class="t" fill="#111">TNF</text>
<text x="410.50" y="465.40" font-size="8.8" text-anchor="middle" class="t" fill="#111">+</text>
<text x="479.20" y="465.40" font-size="8.8" text-anchor="middle" class="t" fill="#111">+</text>
<text x="292.40" y="479.82" font-size="9.0" text-anchor="start" class="t" fill="#111">RANTES</text>
<text x="410.50" y="479.82" font-size="8.8" text-anchor="middle" class="t" fill="#111">+</text>
<text x="479.20" y="479.82" font-size="8.8" text-anchor="middle" class="t" fill="#111">+</text>
<text x="292.40" y="494.24" font-size="9.0" text-anchor="start" class="t" fill="#111">IP-10</text>
<text x="410.50" y="494.24" font-size="8.8" text-anchor="middle" class="t" fill="#111">+</text>
<text x="479.20" y="494.24" font-size="8.8" text-anchor="middle" class="t" fill="#111">+</text>
<text x="292.40" y="508.66" font-size="9.0" text-anchor="start" class="t" fill="#111">MIP-1&#945;</text>
<text x="410.50" y="508.66" font-size="8.8" text-anchor="middle" class="t" fill="#111">+</text>
<text x="479.20" y="508.66" font-size="8.8" text-anchor="middle" class="t" fill="#111">-</text>
<text x="292.40" y="523.08" font-size="9.0" text-anchor="start" class="t" fill="#111">MIP-1&#946;</text>
<text x="410.50" y="523.08" font-size="8.8" text-anchor="middle" class="t" fill="#111">+</text>
<text x="479.20" y="523.08" font-size="8.8" text-anchor="middle" class="t" fill="#111">+</text>
<text x="292.40" y="537.50" font-size="9.0" text-anchor="start" class="t" fill="#111">MCP-1</text>
<text x="410.50" y="537.50" font-size="8.8" text-anchor="middle" class="t" fill="#111">+</text>
<text x="479.20" y="537.50" font-size="8.8" text-anchor="middle" class="t" fill="#111">+</text>
<text x="292.40" y="551.92" font-size="9.0" text-anchor="start" class="t" fill="#111">G-CSF</text>
<text x="410.50" y="551.92" font-size="8.8" text-anchor="middle" class="t" fill="#111">+</text>
<text x="479.20" y="551.92" font-size="8.8" text-anchor="middle" class="t" fill="#111">+</text>
<text x="292.40" y="566.34" font-size="9.0" text-anchor="start" class="t" fill="#111">TGF&#945;</text>
<text x="410.50" y="566.34" font-size="8.8" text-anchor="middle" class="t" fill="#111">+</text>
<text x="479.20" y="566.34" font-size="8.8" text-anchor="middle" class="t" fill="#111">+</text>
<text x="292.40" y="580.76" font-size="9.0" text-anchor="start" class="t" fill="#111">IFN&#947;</text>
<text x="410.50" y="580.76" font-size="8.8" text-anchor="middle" class="t" fill="#111">+</text>
<text x="479.20" y="580.76" font-size="8.8" text-anchor="middle" class="t" fill="#111">+</text>
<line x1="285.80" y1="586.10" x2="509.70" y2="586.10" stroke="#111" stroke-width="1.2"/>
<text x="3.60" y="416.40" font-size="10.2" text-anchor="start" font-weight="bold" fill="#111">G</text>
<line x1="86.30" y1="428.20" x2="100.00" y2="428.20" stroke="#f3cc9c" stroke-width="3.2"/>
<line x1="86.30" y1="440.60" x2="100.00" y2="440.60" stroke="#1f9e4a" stroke-width="3.2"/>
<line x1="148.80" y1="427.30" x2="162.00" y2="427.30" stroke="#2b3c9c" stroke-width="3.2"/>
<line x1="148.80" y1="440.10" x2="162.00" y2="440.10" stroke="#d8262b" stroke-width="3.2"/>
<text x="104.30" y="431.00" font-size="8.8" text-anchor="start" fill="#111">PBS</text>
<text x="104.30" y="443.60" font-size="8.8" text-anchor="start" fill="#111">LPS+PBS</text>
<text x="166.30" y="430.00" font-size="8.8" text-anchor="start" fill="#111">LPS+TSA</text>
<text x="166.30" y="443.00" font-size="8.8" text-anchor="start" fill="#111">LPS+VPA</text>
<path d="M43.8 490.8 L44.5 490.8 L45.2 490.8 L45.9 490.8 L46.6 490.8 L47.3 490.8 L48.0 490.8 L48.7 490.8 L49.4 490.8 L50.1 490.8 L50.8 490.8 L51.5 490.8 L52.2 490.8 L52.9 490.8 L53.6 489.7 L54.3 489.5 L55.0 488.4 L55.7 487.1 L56.4 487.4 L57.1 485.7 L57.8 485.4 L58.5 483.9 L59.2 482.9 L59.9 482.7 L60.6 481.9 L61.3 480.4 L62.0 480.3 L62.7 479.9 L63.4 478.2 L64.1 478.0 L64.8 476.9 L65.5 476.4 L66.2 473.8 L66.9 473.5 L67.6 470.9 L68.3 472.2 L69.0 469.4 L69.7 468.3 L70.4 467.1 L71.1 467.4 L71.8 464.6 L72.5 464.9 L73.2 465.7 L73.9 462.5 L74.6 463.1 L75.3 460.5 L76.0 460.9 L76.7 459.1 L77.4 459.5 L78.1 460.6 L78.8 461.6 L79.5 459.5 L80.2 462.3 L80.9 461.5 L81.6 461.9 L82.3 462.6 L83.0 463.3 L83.7 465.0 L84.4 466.9 L85.1 467.3 L85.8 467.9 L86.5 469.1 L87.2 470.9 L87.9 472.8 L88.6 474.3 L89.3 475.6 L90.0 476.6 L90.7 478.1 L91.4 478.7 L92.1 480.1 L92.8 482.1 L93.5 482.7 L94.2 483.1 L94.9 484.3 L95.7 485.8 L96.4 487.4 L97.1 488.3 L97.8 488.4 L98.5 488.7 L99.2 489.9 L99.9 490.0 L100.6 490.8 L101.3 490.8 L102.0 490.8 L102.7 490.8 L103.4 490.8 L104.1 490.8 L104.8 490.8 L105.5 490.8 L106.2 490.8 L106.9 490.8 L107.6 490.8 L108.3 490.8 L109.0 490.8 L109.7 490.8 L110.4 490.8 L111.1 490.8 L111.8 490.8 L112.5 490.8 L113.2 490.8 L113.9 490.8 L114.6 490.8 L115.3 490.8 L116.0 490.8 L116.7 490.8 L117.4 490.8 L118.1 490.8 L118.8 490.8 L119.5 490.8 L120.2 490.8 L120.9 490.8 L121.6 490.8 L122.3 490.8 L123.0 490.8 L123.7 490.8 L124.4 490.8 L125.1 490.8 L125.8 490.8 L126.5 490.8 L127.2 490.8 L127.9 490.8 L128.6 490.8 L129.3 490.8 L130.0 490.8 L130.7 490.8 L131.4 490.8 L132.1 490.8 L132.8 490.8 L133.5 490.8 L134.2 490.8 L134.9 490.8 L135.6 490.8 L136.3 490.8 L137.0 490.8 L137.7 490.8 L138.4 490.8 L139.1 490.8 L139.8 490.8 L140.5 490.8 L141.2 490.8 L141.9 490.8 L142.6 490.8 L143.3 490.8 L144.0 490.8 L144.7 490.8 L145.4 490.8 L146.1 490.8 L146.1 491.4 L43.8 491.4 Z" fill="#f9cf9f" stroke="none"/>
<path d="M43.8 490.8 L44.5 490.8 L45.2 490.8 L45.9 490.8 L46.6 490.8 L47.3 490.8 L48.0 490.8 L48.7 490.8 L49.4 490.8 L50.1 490.8 L50.8 490.8 L51.5 490.8 L52.2 490.8 L52.9 490.8 L53.6 489.7 L54.3 489.5 L55.0 488.4 L55.7 487.1 L56.4 487.4 L57.1 485.7 L57.8 485.4 L58.5 483.9 L59.2 482.9 L59.9 482.7 L60.6 481.9 L61.3 480.4 L62.0 480.3 L62.7 479.9 L63.4 478.2 L64.1 478.0 L64.8 476.9 L65.5 476.4 L66.2 473.8 L66.9 473.5 L67.6 470.9 L68.3 472.2 L69.0 469.4 L69.7 468.3 L70.4 467.1 L71.1 467.4 L71.8 464.6 L72.5 464.9 L73.2 465.7 L73.9 462.5 L74.6 463.1 L75.3 460.5 L76.0 460.9 L76.7 459.1 L77.4 459.5 L78.1 460.6 L78.8 461.6 L79.5 459.5 L80.2 462.3 L80.9 461.5 L81.6 461.9 L82.3 462.6 L83.0 463.3 L83.7 465.0 L84.4 466.9 L85.1 467.3 L85.8 467.9 L86.5 469.1 L87.2 470.9 L87.9 472.8 L88.6 474.3 L89.3 475.6 L90.0 476.6 L90.7 478.1 L91.4 478.7 L92.1 480.1 L92.8 482.1 L93.5 482.7 L94.2 483.1 L94.9 484.3 L95.7 485.8 L96.4 487.4 L97.1 488.3 L97.8 488.4 L98.5 488.7 L99.2 489.9 L99.9 490.0 L100.6 490.8 L101.3 490.8 L102.0 490.8 L102.7 490.8 L103.4 490.8 L104.1 490.8 L104.8 490.8 L105.5 490.8 L106.2 490.8 L106.9 490.8 L107.6 490.8 L108.3 490.8 L109.0 490.8 L109.7 490.8 L110.4 490.8 L111.1 490.8 L111.8 490.8 L112.5 490.8 L113.2 490.8 L113.9 490.8 L114.6 490.8 L115.3 490.8 L116.0 490.8 L116.7 490.8 L117.4 490.8 L118.1 490.8 L118.8 490.8 L119.5 490.8 L120.2 490.8 L120.9 490.8 L121.6 490.8 L122.3 490.8 L123.0 490.8 L123.7 490.8 L124.4 490.8 L125.1 490.8 L125.8 490.8 L126.5 490.8 L127.2 490.8 L127.9 490.8 L128.6 490.8 L129.3 490.8 L130.0 490.8 L130.7 490.8 L131.4 490.8 L132.1 490.8 L132.8 490.8 L133.5 490.8 L134.2 490.8 L134.9 490.8 L135.6 490.8 L136.3 490.8 L137.0 490.8 L137.7 490.8 L138.4 490.8 L139.1 490.8 L139.8 490.8 L140.5 490.8 L141.2 490.8 L141.9 490.8 L142.6 490.8 L143.3 490.8 L144.0 490.8 L144.7 490.8 L145.4 490.8 L146.1 490.8" fill="none" stroke="#4a3a30" stroke-width="1.0" stroke-linejoin="round"/>
<path d="M43.8 490.8 L44.5 490.8 L45.2 490.8 L45.9 490.8 L46.6 490.8 L47.3 490.8 L48.0 490.8 L48.7 490.8 L49.4 490.8 L50.1 490.8 L50.8 490.8 L51.5 490.8 L52.2 490.8 L52.9 490.8 L53.6 490.8 L54.3 490.8 L55.0 490.8 L55.7 490.8 L56.4 490.8 L57.1 490.8 L57.8 490.8 L58.5 490.8 L59.2 490.8 L59.9 490.8 L60.6 490.8 L61.3 489.7 L62.0 489.9 L62.7 487.9 L63.4 487.5 L64.1 486.2 L64.8 485.7 L65.5 484.6 L66.2 482.6 L66.9 481.9 L67.6 481.8 L68.3 481.6 L69.0 479.8 L69.7 478.2 L70.4 477.2 L71.1 477.0 L71.8 475.5 L72.5 472.7 L73.2 472.1 L73.9 469.4 L74.6 468.3 L75.3 467.1 L76.0 466.7 L76.7 464.6 L77.4 463.4 L78.1 463.7 L78.8 462.3 L79.5 461.5 L80.2 461.1 L80.9 458.8 L81.6 458.6 L82.3 458.0 L83.0 460.8 L83.7 459.9 L84.4 459.7 L85.1 460.3 L85.8 461.2 L86.5 464.5 L87.2 465.5 L87.9 468.5 L88.6 468.5 L89.3 470.9 L90.0 471.2 L90.7 473.3 L91.4 475.3 L92.1 476.7 L92.8 477.7 L93.5 479.5 L94.2 479.9 L94.9 481.1 L95.7 482.2 L96.4 484.1 L97.1 484.7 L97.8 485.5 L98.5 486.9 L99.2 488.5 L99.9 489.6 L100.6 490.1 L101.3 490.8 L102.0 490.8 L102.7 490.8 L103.4 490.8 L104.1 490.8 L104.8 490.8 L105.5 490.8 L106.2 490.8 L106.9 490.8 L107.6 490.8 L108.3 490.8 L109.0 490.8 L109.7 490.8 L110.4 490.8 L111.1 490.8 L111.8 490.8 L112.5 490.8 L113.2 490.8 L113.9 490.8 L114.6 490.8 L115.3 490.8 L116.0 490.8 L116.7 490.8 L117.4 490.8 L118.1 490.8 L118.8 490.8 L119.5 490.8 L120.2 490.8 L120.9 490.8 L121.6 490.8 L122.3 490.8 L123.0 490.8 L123.7 490.8 L124.4 490.8 L125.1 490.8 L125.8 490.8 L126.5 490.8 L127.2 490.8 L127.9 490.8 L128.6 490.8 L129.3 490.8 L130.0 490.8 L130.7 490.8 L131.4 490.8 L132.1 490.8 L132.8 490.8 L133.5 490.8 L134.2 490.8 L134.9 490.8 L135.6 490.8 L136.3 490.8 L137.0 490.8 L137.7 490.8 L138.4 490.8 L139.1 490.8 L139.8 490.8 L140.5 490.8 L141.2 490.8 L141.9 490.8 L142.6 490.8 L143.3 490.8 L144.0 490.8 L144.7 490.8 L145.4 490.8 L146.1 490.8" fill="none" stroke="#d8262b" stroke-width="1.1" stroke-linejoin="round"/>
<path d="M43.8 490.8 L44.5 490.8 L45.2 490.8 L45.9 490.8 L46.6 490.8 L47.3 490.8 L48.0 490.8 L48.7 490.8 L49.4 490.8 L50.1 490.8 L50.8 490.8 L51.5 490.8 L52.2 490.8 L52.9 490.8 L53.6 490.8 L54.3 490.8 L55.0 490.8 L55.7 490.8 L56.4 490.8 L57.1 490.8 L57.8 490.8 L58.5 490.8 L59.2 490.8 L59.9 490.8 L60.6 490.8 L61.3 490.8 L62.0 490.8 L62.7 490.8 L63.4 490.8 L64.1 490.8 L64.8 490.8 L65.5 490.8 L66.2 490.8 L66.9 490.6 L67.6 489.5 L68.3 488.2 L69.0 487.7 L69.7 485.9 L70.4 485.4 L71.1 483.5 L71.8 482.4 L72.5 481.8 L73.2 479.7 L73.9 478.9 L74.6 478.4 L75.3 476.4 L76.0 476.7 L76.7 474.1 L77.4 472.2 L78.1 470.1 L78.8 468.9 L79.5 466.7 L80.2 464.6 L80.9 464.5 L81.6 459.8 L82.3 459.0 L83.0 457.3 L83.7 455.9 L84.4 452.9 L85.1 450.8 L85.8 449.1 L86.5 451.5 L87.2 452.1 L87.9 454.8 L88.6 458.2 L89.3 459.8 L90.0 464.3 L90.7 463.9 L91.4 468.3 L92.1 470.6 L92.8 472.3 L93.5 474.5 L94.2 477.2 L94.9 479.1 L95.7 480.4 L96.4 482.4 L97.1 484.6 L97.8 485.5 L98.5 486.2 L99.2 487.4 L99.9 487.6 L100.6 488.4 L101.3 490.1 L102.0 490.8 L102.7 490.8 L103.4 490.8 L104.1 490.8 L104.8 490.8 L105.5 490.8 L106.2 490.8 L106.9 490.8 L107.6 490.8 L108.3 490.8 L109.0 490.8 L109.7 490.8 L110.4 490.8 L111.1 490.8 L111.8 490.8 L112.5 490.8 L113.2 490.8 L113.9 490.8 L114.6 490.8 L115.3 490.8 L116.0 490.8 L116.7 490.8 L117.4 490.8 L118.1 490.8 L118.8 490.8 L119.5 490.8 L120.2 490.8 L120.9 490.8 L121.6 490.8 L122.3 490.8 L123.0 490.8 L123.7 490.8 L124.4 490.8 L125.1 490.8 L125.8 490.8 L126.5 490.8 L127.2 490.8 L127.9 490.8 L128.6 490.8 L129.3 490.8 L130.0 490.8 L130.7 490.8 L131.4 490.8 L132.1 490.8 L132.8 490.8 L133.5 490.8 L134.2 490.8 L134.9 490.8 L135.6 490.8 L136.3 490.8 L137.0 490.8 L137.7 490.8 L138.4 490.8 L139.1 490.8 L139.8 490.8 L140.5 490.8 L141.2 490.8 L141.9 490.8 L142.6 490.8 L143.3 490.8 L144.0 490.8 L144.7 490.8 L145.4 490.8 L146.1 490.8" fill="none" stroke="#2b3c9c" stroke-width="1.1" stroke-linejoin="round"/>
<path d="M43.8 490.8 L44.5 490.8 L45.2 490.8 L45.9 490.8 L46.6 490.8 L47.3 490.8 L48.0 490.8 L48.7 490.8 L49.4 490.8 L50.1 490.8 L50.8 490.8 L51.5 490.8 L52.2 490.8 L52.9 490.8 L53.6 490.8 L54.3 490.8 L55.0 490.8 L55.7 490.8 L56.4 490.8 L57.1 490.8 L57.8 490.8 L58.5 490.8 L59.2 490.8 L59.9 490.8 L60.6 490.8 L61.3 490.8 L62.0 490.8 L62.7 490.8 L63.4 490.8 L64.1 490.8 L64.8 490.8 L65.5 490.8 L66.2 490.6 L66.9 489.9 L67.6 488.9 L68.3 489.2 L69.0 488.8 L69.7 488.7 L70.4 487.3 L71.1 486.9 L71.8 487.2 L72.5 486.5 L73.2 485.6 L73.9 486.1 L74.6 485.1 L75.3 485.4 L76.0 485.1 L76.7 483.5 L77.4 484.0 L78.1 483.0 L78.8 482.3 L79.5 482.7 L80.2 482.0 L80.9 481.8 L81.6 480.7 L82.3 480.0 L83.0 479.1 L83.7 478.3 L84.4 477.0 L85.1 477.0 L85.8 475.7 L86.5 474.8 L87.2 474.3 L87.9 473.1 L88.6 473.6 L89.3 471.0 L90.0 471.6 L90.7 470.8 L91.4 469.6 L92.1 466.1 L92.8 465.1 L93.5 466.5 L94.2 462.1 L94.9 462.1 L95.7 460.4 L96.4 460.9 L97.1 459.2 L97.8 457.1 L98.5 457.2 L99.2 457.3 L99.9 456.5 L100.6 460.4 L101.3 459.9 L102.0 464.5 L102.7 466.7 L103.4 467.8 L104.1 471.5 L104.8 473.3 L105.5 476.8 L106.2 479.0 L106.9 481.6 L107.6 484.4 L108.3 486.3 L109.0 487.5 L109.7 489.7 L110.4 490.8 L111.1 490.8 L111.8 490.8 L112.5 490.8 L113.2 490.8 L113.9 490.8 L114.6 490.8 L115.3 490.8 L116.0 490.8 L116.7 490.8 L117.4 490.8 L118.1 490.8 L118.8 490.8 L119.5 490.8 L120.2 490.8 L120.9 490.8 L121.6 490.8 L122.3 490.8 L123.0 490.8 L123.7 490.8 L124.4 490.8 L125.1 490.8 L125.8 490.8 L126.5 490.8 L127.2 490.8 L127.9 490.8 L128.6 490.8 L129.3 490.8 L130.0 490.8 L130.7 490.8 L131.4 490.8 L132.1 490.8 L132.8 490.8 L133.5 490.8 L134.2 490.8 L134.9 490.8 L135.6 490.8 L136.3 490.8 L137.0 490.8 L137.7 490.8 L138.4 490.8 L139.1 490.8 L139.8 490.8 L140.5 490.8 L141.2 490.8 L141.9 490.8 L142.6 490.8 L143.3 490.8 L144.0 490.8 L144.7 490.8 L145.4 490.8 L146.1 490.8" fill="none" stroke="#1f9e4a" stroke-width="1.0" stroke-linejoin="round"/>
<path d="M43.8 448.7 H146.1 V491.4 H43.8 Z" fill="none" stroke="#111" stroke-width="1.2"/>
<line x1="43.80" y1="491.40" x2="43.80" y2="493.60" stroke="#111" stroke-width="0.8"/>
<line x1="51.50" y1="491.40" x2="51.50" y2="492.70" stroke="#111" stroke-width="0.8"/>
<line x1="56.00" y1="491.40" x2="56.00" y2="492.70" stroke="#111" stroke-width="0.8"/>
<line x1="59.20" y1="491.40" x2="59.20" y2="492.70" stroke="#111" stroke-width="0.8"/>
<line x1="61.68" y1="491.40" x2="61.68" y2="492.70" stroke="#111" stroke-width="0.8"/>
<line x1="63.70" y1="491.40" x2="63.70" y2="492.70" stroke="#111" stroke-width="0.8"/>
<line x1="65.41" y1="491.40" x2="65.41" y2="492.70" stroke="#111" stroke-width="0.8"/>
<line x1="66.90" y1="491.40" x2="66.90" y2="492.70" stroke="#111" stroke-width="0.8"/>
<line x1="68.20" y1="491.40" x2="68.20" y2="492.70" stroke="#111" stroke-width="0.8"/>
<line x1="69.38" y1="491.40" x2="69.38" y2="493.60" stroke="#111" stroke-width="0.8"/>
<line x1="77.07" y1="491.40" x2="77.07" y2="492.70" stroke="#111" stroke-width="0.8"/>
<line x1="81.58" y1="491.40" x2="81.58" y2="492.70" stroke="#111" stroke-width="0.8"/>
<line x1="84.77" y1="491.40" x2="84.77" y2="492.70" stroke="#111" stroke-width="0.8"/>
<line x1="87.25" y1="491.40" x2="87.25" y2="492.70" stroke="#111" stroke-width="0.8"/>
<line x1="89.28" y1="491.40" x2="89.28" y2="492.70" stroke="#111" stroke-width="0.8"/>
<line x1="90.99" y1="491.40" x2="90.99" y2="492.70" stroke="#111" stroke-width="0.8"/>
<line x1="92.47" y1="491.40" x2="92.47" y2="492.70" stroke="#111" stroke-width="0.8"/>
<line x1="93.78" y1="491.40" x2="93.78" y2="492.70" stroke="#111" stroke-width="0.8"/>
<line x1="94.95" y1="491.40" x2="94.95" y2="493.60" stroke="#111" stroke-width="0.8"/>
<line x1="102.65" y1="491.40" x2="102.65" y2="492.70" stroke="#111" stroke-width="0.8"/>
<line x1="107.15" y1="491.40" x2="107.15" y2="492.70" stroke="#111" stroke-width="0.8"/>
<line x1="110.35" y1="491.40" x2="110.35" y2="492.70" stroke="#111" stroke-width="0.8"/>
<line x1="112.83" y1="491.40" x2="112.83" y2="492.70" stroke="#111" stroke-width="0.8"/>
<line x1="114.85" y1="491.40" x2="114.85" y2="492.70" stroke="#111" stroke-width="0.8"/>
<line x1="116.56" y1="491.40" x2="116.56" y2="492.70" stroke="#111" stroke-width="0.8"/>
<line x1="118.05" y1="491.40" x2="118.05" y2="492.70" stroke="#111" stroke-width="0.8"/>
<line x1="119.35" y1="491.40" x2="119.35" y2="492.70" stroke="#111" stroke-width="0.8"/>
<line x1="120.52" y1="491.40" x2="120.52" y2="493.60" stroke="#111" stroke-width="0.8"/>
<line x1="128.22" y1="491.40" x2="128.22" y2="492.70" stroke="#111" stroke-width="0.8"/>
<line x1="132.73" y1="491.40" x2="132.73" y2="492.70" stroke="#111" stroke-width="0.8"/>
<line x1="135.92" y1="491.40" x2="135.92" y2="492.70" stroke="#111" stroke-width="0.8"/>
<line x1="138.40" y1="491.40" x2="138.40" y2="492.70" stroke="#111" stroke-width="0.8"/>
<line x1="140.43" y1="491.40" x2="140.43" y2="492.70" stroke="#111" stroke-width="0.8"/>
<line x1="142.14" y1="491.40" x2="142.14" y2="492.70" stroke="#111" stroke-width="0.8"/>
<line x1="143.62" y1="491.40" x2="143.62" y2="492.70" stroke="#111" stroke-width="0.8"/>
<line x1="144.93" y1="491.40" x2="144.93" y2="492.70" stroke="#111" stroke-width="0.8"/>
<text x="41.10" y="502.40" font-size="6.6" text-anchor="start" fill="#111">10</text>
<text x="47.90" y="500.40" font-size="4.6" text-anchor="start" fill="#111">0</text>
<text x="67.47" y="502.40" font-size="6.6" text-anchor="start" fill="#111">10</text>
<text x="74.28" y="500.40" font-size="4.6" text-anchor="start" fill="#111">1</text>
<text x="93.75" y="502.40" font-size="6.6" text-anchor="start" fill="#111">10</text>
<text x="100.55" y="500.40" font-size="4.6" text-anchor="start" fill="#111">2</text>
<text x="119.92" y="502.40" font-size="6.6" text-anchor="start" fill="#111">10</text>
<text x="126.72" y="500.40" font-size="4.6" text-anchor="start" fill="#111">3</text>
<text x="143.20" y="502.40" font-size="6.6" text-anchor="start" fill="#111">10</text>
<text x="150.00" y="500.40" font-size="4.6" text-anchor="start" fill="#111">4</text>
<line x1="43.80" y1="505.40" x2="140.10" y2="505.40" stroke="#111" stroke-width="1.3"/>
<path d="M137.6 502.7 L147.6 505.4 L137.6 508.1 Z" fill="#111"/>
<text x="94.95" y="516.00" font-size="8.8" text-anchor="middle" fill="#111">CD40</text>
<path d="M157.5 490.8 L158.2 490.8 L158.9 490.8 L159.6 490.8 L160.3 490.8 L161.0 490.8 L161.7 490.8 L162.4 490.8 L163.1 490.8 L163.8 490.8 L164.5 490.8 L165.2 490.8 L165.9 490.8 L166.6 490.8 L167.3 490.8 L168.0 490.8 L168.7 490.8 L169.4 490.8 L170.1 490.8 L170.8 490.8 L171.5 490.8 L172.2 490.8 L172.9 490.8 L173.6 490.8 L174.3 490.8 L175.0 490.8 L175.7 490.8 L176.4 490.8 L177.1 490.8 L177.8 490.8 L178.5 490.8 L179.2 490.8 L179.9 490.8 L180.6 490.8 L181.3 490.8 L182.0 490.8 L182.7 490.8 L183.4 490.8 L184.1 490.8 L184.8 490.8 L185.5 490.8 L186.2 490.8 L186.9 490.8 L187.6 490.8 L188.3 490.8 L189.0 490.8 L189.7 490.8 L190.4 490.0 L191.1 489.3 L191.8 488.8 L192.5 489.0 L193.2 488.1 L193.9 488.2 L194.6 487.7 L195.3 486.8 L196.0 487.0 L196.7 485.5 L197.4 485.7 L198.1 485.2 L198.8 484.8 L199.5 483.8 L200.2 484.0 L200.9 482.1 L201.6 482.1 L202.3 481.8 L203.0 481.3 L203.7 480.3 L204.4 480.5 L205.1 480.8 L205.8 480.7 L206.5 479.4 L207.2 479.2 L207.9 478.8 L208.6 477.5 L209.3 477.7 L210.0 477.2 L210.7 476.4 L211.4 475.3 L212.1 476.0 L212.8 475.2 L213.5 476.0 L214.2 474.2 L214.9 473.9 L215.6 472.0 L216.3 473.1 L217.0 471.7 L217.7 471.9 L218.4 469.8 L219.1 470.6 L219.8 471.6 L220.5 471.0 L221.2 472.6 L221.9 474.2 L222.6 475.9 L223.3 477.4 L224.0 476.6 L224.7 479.6 L225.4 479.1 L226.1 481.2 L226.8 481.3 L227.5 483.0 L228.2 483.7 L228.9 485.3 L229.6 486.4 L230.3 486.5 L231.0 487.8 L231.7 489.1 L232.4 488.9 L233.1 489.7 L233.8 489.5 L234.5 490.4 L235.2 490.7 L235.9 490.8 L236.6 490.8 L237.3 490.8 L238.0 490.8 L238.7 490.8 L239.4 490.8 L240.1 490.8 L240.8 490.8 L241.5 490.8 L242.2 490.8 L242.9 490.8 L243.6 490.8 L244.3 490.8 L245.0 490.8 L245.7 490.8 L246.4 490.8 L247.1 490.8 L247.8 490.8 L248.5 490.8 L249.2 490.8 L249.9 490.8 L250.6 490.8 L251.3 490.8 L252.0 490.8 L252.7 490.8 L253.4 490.8 L254.1 490.8 L254.8 490.8 L255.5 490.8 L256.2 490.8 L256.9 490.8 L257.6 490.8 L258.3 490.8 L259.0 490.8 L259.0 491.4 L157.5 491.4 Z" fill="#f9cf9f" stroke="none"/>
<path d="M157.5 490.8 L158.2 490.8 L158.9 490.8 L159.6 490.8 L160.3 490.8 L161.0 490.8 L161.7 490.8 L162.4 490.8 L163.1 490.8 L163.8 490.8 L164.5 490.8 L165.2 490.8 L165.9 490.8 L166.6 490.8 L167.3 490.8 L168.0 490.8 L168.7 490.8 L169.4 490.8 L170.1 490.8 L170.8 490.8 L171.5 490.8 L172.2 490.8 L172.9 490.8 L173.6 490.8 L174.3 490.8 L175.0 490.8 L175.7 490.8 L176.4 490.8 L177.1 490.8 L177.8 490.8 L178.5 490.8 L179.2 490.8 L179.9 490.8 L180.6 490.8 L181.3 490.8 L182.0 490.8 L182.7 490.8 L183.4 490.8 L184.1 490.8 L184.8 490.8 L185.5 490.8 L186.2 490.8 L186.9 490.8 L187.6 490.8 L188.3 490.8 L189.0 490.8 L189.7 490.8 L190.4 490.0 L191.1 489.3 L191.8 488.8 L192.5 489.0 L193.2 488.1 L193.9 488.2 L194.6 487.7 L195.3 486.8 L196.0 487.0 L196.7 485.5 L197.4 485.7 L198.1 485.2 L198.8 484.8 L199.5 483.8 L200.2 484.0 L200.9 482.1 L201.6 482.1 L202.3 481.8 L203.0 481.3 L203.7 480.3 L204.4 480.5 L205.1 480.8 L205.8 480.7 L206.5 479.4 L207.2 479.2 L207.9 478.8 L208.6 477.5 L209.3 477.7 L210.0 477.2 L210.7 476.4 L211.4 475.3 L212.1 476.0 L212.8 475.2 L213.5 476.0 L214.2 474.2 L214.9 473.9 L215.6 472.0 L216.3 473.1 L217.0 471.7 L217.7 471.9 L218.4 469.8 L219.1 470.6 L219.8 471.6 L220.5 471.0 L221.2 472.6 L221.9 474.2 L222.6 475.9 L223.3 477.4 L224.0 476.6 L224.7 479.6 L225.4 479.1 L226.1 481.2 L226.8 481.3 L227.5 483.0 L228.2 483.7 L228.9 485.3 L229.6 486.4 L230.3 486.5 L231.0 487.8 L231.7 489.1 L232.4 488.9 L233.1 489.7 L233.8 489.5 L234.5 490.4 L235.2 490.7 L235.9 490.8 L236.6 490.8 L237.3 490.8 L238.0 490.8 L238.7 490.8 L239.4 490.8 L240.1 490.8 L240.8 490.8 L241.5 490.8 L242.2 490.8 L242.9 490.8 L243.6 490.8 L244.3 490.8 L245.0 490.8 L245.7 490.8 L246.4 490.8 L247.1 490.8 L247.8 490.8 L248.5 490.8 L249.2 490.8 L249.9 490.8 L250.6 490.8 L251.3 490.8 L252.0 490.8 L252.7 490.8 L253.4 490.8 L254.1 490.8 L254.8 490.8 L255.5 490.8 L256.2 490.8 L256.9 490.8 L257.6 490.8 L258.3 490.8 L259.0 490.8" fill="none" stroke="#4a3a30" stroke-width="1.0" stroke-linejoin="round"/>
<path d="M157.5 490.8 L158.2 490.8 L158.9 490.8 L159.6 490.8 L160.3 490.8 L161.0 490.8 L161.7 490.8 L162.4 490.8 L163.1 490.8 L163.8 490.8 L164.5 490.8 L165.2 490.8 L165.9 490.8 L166.6 490.8 L167.3 490.8 L168.0 490.8 L168.7 490.8 L169.4 490.8 L170.1 490.8 L170.8 490.8 L171.5 490.8 L172.2 490.8 L172.9 490.8 L173.6 490.8 L174.3 490.8 L175.0 490.8 L175.7 490.8 L176.4 490.8 L177.1 490.8 L177.8 490.8 L178.5 490.8 L179.2 490.8 L179.9 490.8 L180.6 490.8 L181.3 490.8 L182.0 490.8 L182.7 490.8 L183.4 490.8 L184.1 490.8 L184.8 490.8 L185.5 490.8 L186.2 490.1 L186.9 490.4 L187.6 489.5 L188.3 488.9 L189.0 488.5 L189.7 488.1 L190.4 488.0 L191.1 487.3 L191.8 487.2 L192.5 486.9 L193.2 485.9 L193.9 485.9 L194.6 485.3 L195.3 484.9 L196.0 485.3 L196.7 484.4 L197.4 483.3 L198.1 483.4 L198.8 482.5 L199.5 482.1 L200.2 481.6 L200.9 480.5 L201.6 481.7 L202.3 480.5 L203.0 480.3 L203.7 478.8 L204.4 479.1 L205.1 478.9 L205.8 478.2 L206.5 477.2 L207.2 476.9 L207.9 476.2 L208.6 475.3 L209.3 475.0 L210.0 474.8 L210.7 474.0 L211.4 474.4 L212.1 472.4 L212.8 471.4 L213.5 469.8 L214.2 469.9 L214.9 469.8 L215.6 468.6 L216.3 468.5 L217.0 468.8 L217.7 466.9 L218.4 466.3 L219.1 468.6 L219.8 468.5 L220.5 468.7 L221.2 468.0 L221.9 469.7 L222.6 468.3 L223.3 470.5 L224.0 471.6 L224.7 473.1 L225.4 473.7 L226.1 474.7 L226.8 476.5 L227.5 478.7 L228.2 480.2 L228.9 480.7 L229.6 483.6 L230.3 484.1 L231.0 484.3 L231.7 485.0 L232.4 485.3 L233.1 486.8 L233.8 486.8 L234.5 488.0 L235.2 488.2 L235.9 489.5 L236.6 490.4 L237.3 490.8 L238.0 490.8 L238.7 490.8 L239.4 490.8 L240.1 490.8 L240.8 490.8 L241.5 490.8 L242.2 490.8 L242.9 490.8 L243.6 490.8 L244.3 490.8 L245.0 490.8 L245.7 490.8 L246.4 490.8 L247.1 490.8 L247.8 490.8 L248.5 490.8 L249.2 490.8 L249.9 490.8 L250.6 490.8 L251.3 490.8 L252.0 490.8 L252.7 490.8 L253.4 490.8 L254.1 490.8 L254.8 490.8 L255.5 490.8 L256.2 490.8 L256.9 490.8 L257.6 490.8 L258.3 490.8 L259.0 490.8" fill="none" stroke="#2b3c9c" stroke-width="1.1" stroke-linejoin="round"/>
<path d="M157.5 490.8 L158.2 490.8 L158.9 490.8 L159.6 490.8 L160.3 490.8 L161.0 490.8 L161.7 490.8 L162.4 490.8 L163.1 490.8 L163.8 490.8 L164.5 490.8 L165.2 490.8 L165.9 490.8 L166.6 490.8 L167.3 490.8 L168.0 490.8 L168.7 490.8 L169.4 490.8 L170.1 490.8 L170.8 490.8 L171.5 490.8 L172.2 490.8 L172.9 490.8 L173.6 490.8 L174.3 490.8 L175.0 490.8 L175.7 490.8 L176.4 490.8 L177.1 490.8 L177.8 490.8 L178.5 490.8 L179.2 490.8 L179.9 490.8 L180.6 490.8 L181.3 490.8 L182.0 490.8 L182.7 490.8 L183.4 490.8 L184.1 490.8 L184.8 490.8 L185.5 490.8 L186.2 490.8 L186.9 490.6 L187.6 489.8 L188.3 489.3 L189.0 489.0 L189.7 489.0 L190.4 487.6 L191.1 488.0 L191.8 486.5 L192.5 486.8 L193.2 486.6 L193.9 485.9 L194.6 486.2 L195.3 484.8 L196.0 484.8 L196.7 484.3 L197.4 484.3 L198.1 484.1 L198.8 482.9 L199.5 482.6 L200.2 482.3 L200.9 480.9 L201.6 481.2 L202.3 479.9 L203.0 479.9 L203.7 479.2 L204.4 478.6 L205.1 478.8 L205.8 478.3 L206.5 476.7 L207.2 476.3 L207.9 475.7 L208.6 475.5 L209.3 473.9 L210.0 474.4 L210.7 474.7 L211.4 472.6 L212.1 472.5 L212.8 472.5 L213.5 473.0 L214.2 472.4 L214.9 471.2 L215.6 471.0 L216.3 468.8 L217.0 469.5 L217.7 466.9 L218.4 465.4 L219.1 466.9 L219.8 465.9 L220.5 465.3 L221.2 467.8 L221.9 467.6 L222.6 467.1 L223.3 468.9 L224.0 467.9 L224.7 467.0 L225.4 470.4 L226.1 472.9 L226.8 473.7 L227.5 476.0 L228.2 479.4 L228.9 481.5 L229.6 483.7 L230.3 484.2 L231.0 484.9 L231.7 485.8 L232.4 486.1 L233.1 486.3 L233.8 487.6 L234.5 488.2 L235.2 489.2 L235.9 488.8 L236.6 490.2 L237.3 490.8 L238.0 490.8 L238.7 490.8 L239.4 490.8 L240.1 490.8 L240.8 490.8 L241.5 490.8 L242.2 490.8 L242.9 490.8 L243.6 490.8 L244.3 490.8 L245.0 490.8 L245.7 490.8 L246.4 490.8 L247.1 490.8 L247.8 490.8 L248.5 490.8 L249.2 490.8 L249.9 490.8 L250.6 490.8 L251.3 490.8 L252.0 490.8 L252.7 490.8 L253.4 490.8 L254.1 490.8 L254.8 490.8 L255.5 490.8 L256.2 490.8 L256.9 490.8 L257.6 490.8 L258.3 490.8 L259.0 490.8" fill="none" stroke="#d8262b" stroke-width="1.2" stroke-linejoin="round"/>
<path d="M157.5 490.8 L158.2 490.8 L158.9 490.8 L159.6 490.8 L160.3 490.8 L161.0 490.8 L161.7 490.8 L162.4 490.8 L163.1 490.8 L163.8 490.8 L164.5 490.8 L165.2 490.8 L165.9 490.8 L166.6 490.8 L167.3 490.8 L168.0 490.8 L168.7 490.8 L169.4 490.8 L170.1 490.8 L170.8 490.8 L171.5 490.8 L172.2 490.8 L172.9 490.8 L173.6 490.8 L174.3 490.8 L175.0 490.8 L175.7 490.8 L176.4 490.8 L177.1 490.8 L177.8 490.8 L178.5 490.8 L179.2 490.8 L179.9 490.8 L180.6 490.8 L181.3 490.8 L182.0 490.8 L182.7 490.8 L183.4 490.8 L184.1 490.8 L184.8 490.8 L185.5 490.8 L186.2 490.8 L186.9 490.8 L187.6 490.8 L188.3 490.8 L189.0 490.8 L189.7 490.8 L190.4 490.8 L191.1 490.8 L191.8 490.8 L192.5 490.8 L193.2 490.8 L193.9 490.8 L194.6 490.8 L195.3 490.8 L196.0 490.8 L196.7 490.8 L197.4 490.8 L198.1 490.8 L198.8 490.8 L199.5 490.8 L200.2 490.8 L200.9 490.8 L201.6 490.8 L202.3 490.8 L203.0 490.8 L203.7 490.8 L204.4 490.8 L205.1 490.8 L205.8 490.8 L206.5 490.8 L207.2 490.8 L207.9 490.8 L208.6 490.8 L209.3 490.8 L210.0 490.8 L210.7 490.8 L211.4 490.8 L212.1 490.8 L212.8 490.8 L213.5 490.8 L214.2 490.8 L214.9 490.8 L215.6 490.8 L216.3 490.8 L217.0 490.8 L217.7 490.8 L218.4 490.8 L219.1 490.8 L219.8 489.8 L220.5 489.5 L221.2 489.3 L221.9 488.5 L222.6 487.5 L223.3 486.8 L224.0 484.8 L224.7 483.6 L225.4 481.6 L226.1 478.4 L226.8 476.5 L227.5 472.5 L228.2 470.2 L228.9 466.5 L229.6 463.4 L230.3 460.0 L231.0 455.8 L231.7 457.4 L232.4 453.8 L233.1 455.3 L233.8 455.8 L234.5 457.4 L235.2 462.1 L235.9 466.7 L236.6 470.5 L237.3 472.6 L238.0 476.5 L238.7 481.1 L239.4 482.6 L240.1 484.7 L240.8 487.0 L241.5 489.4 L242.2 490.3 L242.9 490.8 L243.6 490.8 L244.3 490.8 L245.0 490.8 L245.7 490.8 L246.4 490.8 L247.1 490.8 L247.8 490.8 L248.5 490.8 L249.2 490.8 L249.9 490.8 L250.6 490.8 L251.3 490.8 L252.0 490.8 L252.7 490.8 L253.4 490.8 L254.1 490.8 L254.8 490.8 L255.5 490.8 L256.2 490.8 L256.9 490.8 L257.6 490.8 L258.3 490.8 L259.0 490.8" fill="none" stroke="#1f9e4a" stroke-width="1.0" stroke-linejoin="round"/>
<path d="M157.5 448.7 H259.0 V491.4 H157.5 Z" fill="none" stroke="#111" stroke-width="1.2"/>
<line x1="157.50" y1="491.40" x2="157.50" y2="493.60" stroke="#111" stroke-width="0.8"/>
<line x1="165.14" y1="491.40" x2="165.14" y2="492.70" stroke="#111" stroke-width="0.8"/>
<line x1="169.61" y1="491.40" x2="169.61" y2="492.70" stroke="#111" stroke-width="0.8"/>
<line x1="172.78" y1="491.40" x2="172.78" y2="492.70" stroke="#111" stroke-width="0.8"/>
<line x1="175.24" y1="491.40" x2="175.24" y2="492.70" stroke="#111" stroke-width="0.8"/>
<line x1="177.25" y1="491.40" x2="177.25" y2="492.70" stroke="#111" stroke-width="0.8"/>
<line x1="178.94" y1="491.40" x2="178.94" y2="492.70" stroke="#111" stroke-width="0.8"/>
<line x1="180.42" y1="491.40" x2="180.42" y2="492.70" stroke="#111" stroke-width="0.8"/>
<line x1="181.71" y1="491.40" x2="181.71" y2="492.70" stroke="#111" stroke-width="0.8"/>
<line x1="182.88" y1="491.40" x2="182.88" y2="493.60" stroke="#111" stroke-width="0.8"/>
<line x1="190.51" y1="491.40" x2="190.51" y2="492.70" stroke="#111" stroke-width="0.8"/>
<line x1="194.98" y1="491.40" x2="194.98" y2="492.70" stroke="#111" stroke-width="0.8"/>
<line x1="198.15" y1="491.40" x2="198.15" y2="492.70" stroke="#111" stroke-width="0.8"/>
<line x1="200.61" y1="491.40" x2="200.61" y2="492.70" stroke="#111" stroke-width="0.8"/>
<line x1="202.62" y1="491.40" x2="202.62" y2="492.70" stroke="#111" stroke-width="0.8"/>
<line x1="204.32" y1="491.40" x2="204.32" y2="492.70" stroke="#111" stroke-width="0.8"/>
<line x1="205.79" y1="491.40" x2="205.79" y2="492.70" stroke="#111" stroke-width="0.8"/>
<line x1="207.09" y1="491.40" x2="207.09" y2="492.70" stroke="#111" stroke-width="0.8"/>
<line x1="208.25" y1="491.40" x2="208.25" y2="493.60" stroke="#111" stroke-width="0.8"/>
<line x1="215.89" y1="491.40" x2="215.89" y2="492.70" stroke="#111" stroke-width="0.8"/>
<line x1="220.36" y1="491.40" x2="220.36" y2="492.70" stroke="#111" stroke-width="0.8"/>
<line x1="223.53" y1="491.40" x2="223.53" y2="492.70" stroke="#111" stroke-width="0.8"/>
<line x1="225.99" y1="491.40" x2="225.99" y2="492.70" stroke="#111" stroke-width="0.8"/>
<line x1="228.00" y1="491.40" x2="228.00" y2="492.70" stroke="#111" stroke-width="0.8"/>
<line x1="229.69" y1="491.40" x2="229.69" y2="492.70" stroke="#111" stroke-width="0.8"/>
<line x1="231.17" y1="491.40" x2="231.17" y2="492.70" stroke="#111" stroke-width="0.8"/>
<line x1="232.46" y1="491.40" x2="232.46" y2="492.70" stroke="#111" stroke-width="0.8"/>
<line x1="233.62" y1="491.40" x2="233.62" y2="493.60" stroke="#111" stroke-width="0.8"/>
<line x1="241.26" y1="491.40" x2="241.26" y2="492.70" stroke="#111" stroke-width="0.8"/>
<line x1="245.73" y1="491.40" x2="245.73" y2="492.70" stroke="#111" stroke-width="0.8"/>
<line x1="248.90" y1="491.40" x2="248.90" y2="492.70" stroke="#111" stroke-width="0.8"/>
<line x1="251.36" y1="491.40" x2="251.36" y2="492.70" stroke="#111" stroke-width="0.8"/>
<line x1="253.37" y1="491.40" x2="253.37" y2="492.70" stroke="#111" stroke-width="0.8"/>
<line x1="255.07" y1="491.40" x2="255.07" y2="492.70" stroke="#111" stroke-width="0.8"/>
<line x1="256.54" y1="491.40" x2="256.54" y2="492.70" stroke="#111" stroke-width="0.8"/>
<line x1="257.84" y1="491.40" x2="257.84" y2="492.70" stroke="#111" stroke-width="0.8"/>
<text x="154.80" y="502.40" font-size="6.6" text-anchor="start" fill="#111">10</text>
<text x="161.60" y="500.40" font-size="4.6" text-anchor="start" fill="#111">0</text>
<text x="180.97" y="502.40" font-size="6.6" text-anchor="start" fill="#111">10</text>
<text x="187.78" y="500.40" font-size="4.6" text-anchor="start" fill="#111">1</text>
<text x="207.05" y="502.40" font-size="6.6" text-anchor="start" fill="#111">10</text>
<text x="213.85" y="500.40" font-size="4.6" text-anchor="start" fill="#111">2</text>
<text x="233.03" y="502.40" font-size="6.6" text-anchor="start" fill="#111">10</text>
<text x="239.83" y="500.40" font-size="4.6" text-anchor="start" fill="#111">3</text>
<text x="256.10" y="502.40" font-size="6.6" text-anchor="start" fill="#111">10</text>
<text x="262.90" y="500.40" font-size="4.6" text-anchor="start" fill="#111">4</text>
<line x1="157.50" y1="505.40" x2="253.00" y2="505.40" stroke="#111" stroke-width="1.3"/>
<path d="M250.5 502.7 L260.5 505.4 L250.5 508.1 Z" fill="#111"/>
<text x="208.25" y="516.00" font-size="8.8" text-anchor="middle" fill="#111">CD80</text>
<path d="M43.8 566.6 L44.5 566.6 L45.2 566.6 L45.9 566.6 L46.6 566.6 L47.3 566.6 L48.0 566.6 L48.7 566.6 L49.4 566.6 L50.1 566.6 L50.8 566.6 L51.5 566.6 L52.2 566.6 L52.9 566.6 L53.6 566.6 L54.3 566.6 L55.0 566.6 L55.7 566.6 L56.4 566.6 L57.1 566.6 L57.8 566.6 L58.5 566.2 L59.2 565.0 L59.9 564.9 L60.6 564.5 L61.3 563.3 L62.0 563.2 L62.7 562.2 L63.4 561.9 L64.1 561.6 L64.8 559.8 L65.5 559.3 L66.2 558.9 L66.9 559.1 L67.6 557.4 L68.3 557.9 L69.0 557.3 L69.7 555.9 L70.4 555.3 L71.1 554.9 L71.8 554.4 L72.5 554.5 L73.2 553.2 L73.9 553.9 L74.6 553.2 L75.3 555.2 L76.0 554.9 L76.7 555.9 L77.4 554.4 L78.1 555.4 L78.8 555.8 L79.5 556.0 L80.2 555.4 L80.9 557.3 L81.6 557.8 L82.3 557.7 L83.0 558.7 L83.7 558.6 L84.4 560.1 L85.1 561.1 L85.8 561.1 L86.5 562.3 L87.2 562.1 L87.9 563.2 L88.6 563.2 L89.3 565.0 L90.0 565.2 L90.7 566.0 L91.4 566.3 L92.1 566.5 L92.8 566.6 L93.5 566.6 L94.2 566.6 L94.9 566.6 L95.7 566.6 L96.4 566.6 L97.1 566.6 L97.8 566.6 L98.5 566.6 L99.2 566.6 L99.9 566.6 L100.6 566.6 L101.3 566.6 L102.0 566.6 L102.7 566.6 L103.4 566.6 L104.1 566.6 L104.8 566.6 L105.5 566.6 L106.2 566.6 L106.9 566.6 L107.6 566.6 L108.3 566.6 L109.0 566.6 L109.7 566.6 L110.4 566.6 L111.1 566.6 L111.8 566.6 L112.5 566.6 L113.2 566.6 L113.9 566.6 L114.6 566.6 L115.3 566.6 L116.0 566.6 L116.7 566.6 L117.4 566.6 L118.1 566.6 L118.8 566.6 L119.5 566.6 L120.2 566.6 L120.9 566.6 L121.6 566.6 L122.3 566.6 L123.0 566.6 L123.7 566.6 L124.4 566.6 L125.1 566.6 L125.8 566.6 L126.5 566.6 L127.2 566.6 L127.9 566.6 L128.6 566.6 L129.3 566.6 L130.0 566.6 L130.7 566.6 L131.4 566.6 L132.1 566.6 L132.8 566.6 L133.5 566.6 L134.2 566.6 L134.9 566.6 L135.6 566.6 L136.3 566.6 L137.0 566.6 L137.7 566.6 L138.4 566.6 L139.1 566.6 L139.8 566.6 L140.5 566.6 L141.2 566.6 L141.9 566.6 L142.6 566.6 L143.3 566.6 L144.0 566.6 L144.7 566.6 L145.4 566.6 L146.1 566.6 L146.1 567.2 L43.8 567.2 Z" fill="#f9cf9f" stroke="none"/>
<path d="M43.8 566.6 L44.5 566.6 L45.2 566.6 L45.9 566.6 L46.6 566.6 L47.3 566.6 L48.0 566.6 L48.7 566.6 L49.4 566.6 L50.1 566.6 L50.8 566.6 L51.5 566.6 L52.2 566.6 L52.9 566.6 L53.6 566.6 L54.3 566.6 L55.0 566.6 L55.7 566.6 L56.4 566.6 L57.1 566.6 L57.8 566.6 L58.5 566.2 L59.2 565.0 L59.9 564.9 L60.6 564.5 L61.3 563.3 L62.0 563.2 L62.7 562.2 L63.4 561.9 L64.1 561.6 L64.8 559.8 L65.5 559.3 L66.2 558.9 L66.9 559.1 L67.6 557.4 L68.3 557.9 L69.0 557.3 L69.7 555.9 L70.4 555.3 L71.1 554.9 L71.8 554.4 L72.5 554.5 L73.2 553.2 L73.9 553.9 L74.6 553.2 L75.3 555.2 L76.0 554.9 L76.7 555.9 L77.4 554.4 L78.1 555.4 L78.8 555.8 L79.5 556.0 L80.2 555.4 L80.9 557.3 L81.6 557.8 L82.3 557.7 L83.0 558.7 L83.7 558.6 L84.4 560.1 L85.1 561.1 L85.8 561.1 L86.5 562.3 L87.2 562.1 L87.9 563.2 L88.6 563.2 L89.3 565.0 L90.0 565.2 L90.7 566.0 L91.4 566.3 L92.1 566.5 L92.8 566.6 L93.5 566.6 L94.2 566.6 L94.9 566.6 L95.7 566.6 L96.4 566.6 L97.1 566.6 L97.8 566.6 L98.5 566.6 L99.2 566.6 L99.9 566.6 L100.6 566.6 L101.3 566.6 L102.0 566.6 L102.7 566.6 L103.4 566.6 L104.1 566.6 L104.8 566.6 L105.5 566.6 L106.2 566.6 L106.9 566.6 L107.6 566.6 L108.3 566.6 L109.0 566.6 L109.7 566.6 L110.4 566.6 L111.1 566.6 L111.8 566.6 L112.5 566.6 L113.2 566.6 L113.9 566.6 L114.6 566.6 L115.3 566.6 L116.0 566.6 L116.7 566.6 L117.4 566.6 L118.1 566.6 L118.8 566.6 L119.5 566.6 L120.2 566.6 L120.9 566.6 L121.6 566.6 L122.3 566.6 L123.0 566.6 L123.7 566.6 L124.4 566.6 L125.1 566.6 L125.8 566.6 L126.5 566.6 L127.2 566.6 L127.9 566.6 L128.6 566.6 L129.3 566.6 L130.0 566.6 L130.7 566.6 L131.4 566.6 L132.1 566.6 L132.8 566.6 L133.5 566.6 L134.2 566.6 L134.9 566.6 L135.6 566.6 L136.3 566.6 L137.0 566.6 L137.7 566.6 L138.4 566.6 L139.1 566.6 L139.8 566.6 L140.5 566.6 L141.2 566.6 L141.9 566.6 L142.6 566.6 L143.3 566.6 L144.0 566.6 L144.7 566.6 L145.4 566.6 L146.1 566.6" fill="none" stroke="#4a3a30" stroke-width="1.0" stroke-linejoin="round"/>
<path d="M43.8 566.6 L44.5 566.6 L45.2 566.6 L45.9 566.6 L46.6 566.6 L47.3 566.6 L48.0 566.6 L48.7 566.6 L49.4 566.6 L50.1 566.6 L50.8 566.6 L51.5 566.6 L52.2 566.6 L52.9 566.6 L53.6 566.6 L54.3 566.6 L55.0 566.6 L55.7 566.6 L56.4 566.6 L57.1 566.6 L57.8 566.6 L58.5 566.6 L59.2 566.6 L59.9 566.6 L60.6 566.6 L61.3 566.6 L62.0 566.6 L62.7 566.6 L63.4 566.6 L64.1 566.6 L64.8 566.6 L65.5 566.6 L66.2 566.6 L66.9 566.6 L67.6 566.6 L68.3 566.6 L69.0 566.6 L69.7 566.6 L70.4 566.6 L71.1 566.6 L71.8 566.6 L72.5 566.6 L73.2 566.5 L73.9 566.4 L74.6 566.4 L75.3 566.5 L76.0 565.6 L76.7 566.3 L77.4 566.0 L78.1 565.1 L78.8 566.0 L79.5 565.2 L80.2 565.5 L80.9 565.1 L81.6 564.7 L82.3 564.6 L83.0 563.9 L83.7 565.1 L84.4 565.0 L85.1 564.3 L85.8 563.5 L86.5 563.8 L87.2 564.2 L87.9 563.0 L88.6 563.8 L89.3 563.8 L90.0 562.6 L90.7 562.7 L91.4 562.9 L92.1 562.6 L92.8 562.7 L93.5 562.2 L94.2 561.2 L94.9 560.6 L95.7 560.8 L96.4 559.9 L97.1 560.2 L97.8 559.4 L98.5 557.8 L99.2 557.6 L99.9 557.6 L100.6 557.2 L101.3 556.7 L102.0 556.3 L102.7 555.0 L103.4 553.6 L104.1 554.3 L104.8 552.5 L105.5 553.1 L106.2 552.2 L106.9 551.9 L107.6 551.5 L108.3 552.4 L109.0 551.8 L109.7 553.3 L110.4 553.7 L111.1 554.4 L111.8 554.1 L112.5 552.6 L113.2 553.9 L113.9 553.8 L114.6 552.9 L115.3 553.7 L116.0 553.2 L116.7 555.0 L117.4 553.7 L118.1 553.9 L118.8 553.8 L119.5 553.2 L120.2 554.1 L120.9 553.6 L121.6 554.7 L122.3 553.3 L123.0 553.7 L123.7 554.4 L124.4 553.4 L125.1 554.8 L125.8 555.1 L126.5 554.9 L127.2 552.4 L127.9 553.4 L128.6 554.2 L129.3 555.5 L130.0 556.8 L130.7 557.5 L131.4 559.4 L132.1 560.7 L132.8 563.1 L133.5 565.7 L134.2 566.6 L134.9 566.6 L135.6 566.6 L136.3 566.6 L137.0 566.6 L137.7 566.6 L138.4 566.6 L139.1 566.6 L139.8 566.6 L140.5 566.6 L141.2 566.6 L141.9 566.6 L142.6 566.6 L143.3 566.6 L144.0 566.6 L144.7 566.6 L145.4 566.6 L146.1 566.6" fill="none" stroke="#2b3c9c" stroke-width="1.1" stroke-linejoin="round"/>
<path d="M43.8 566.6 L44.5 566.6 L45.2 566.6 L45.9 566.6 L46.6 566.6 L47.3 566.6 L48.0 566.6 L48.7 566.6 L49.4 566.6 L50.1 566.6 L50.8 566.6 L51.5 566.6 L52.2 566.6 L52.9 566.6 L53.6 566.6 L54.3 566.6 L55.0 566.6 L55.7 566.6 L56.4 566.6 L57.1 566.6 L57.8 566.6 L58.5 566.6 L59.2 566.6 L59.9 566.6 L60.6 566.6 L61.3 566.6 L62.0 566.6 L62.7 566.6 L63.4 566.6 L64.1 566.6 L64.8 566.6 L65.5 566.6 L66.2 566.6 L66.9 566.6 L67.6 566.6 L68.3 566.6 L69.0 566.6 L69.7 566.6 L70.4 566.6 L71.1 566.6 L71.8 566.6 L72.5 566.6 L73.2 566.6 L73.9 566.5 L74.6 566.3 L75.3 566.3 L76.0 566.1 L76.7 566.1 L77.4 565.6 L78.1 566.2 L78.8 565.4 L79.5 566.3 L80.2 565.0 L80.9 565.4 L81.6 566.1 L82.3 565.9 L83.0 565.6 L83.7 565.3 L84.4 564.6 L85.1 564.8 L85.8 564.7 L86.5 565.1 L87.2 564.0 L87.9 564.3 L88.6 564.9 L89.3 564.9 L90.0 564.2 L90.7 563.9 L91.4 563.0 L92.1 563.9 L92.8 563.0 L93.5 562.8 L94.2 562.6 L94.9 562.5 L95.7 562.5 L96.4 561.3 L97.1 562.1 L97.8 562.1 L98.5 561.3 L99.2 560.9 L99.9 560.5 L100.6 560.4 L101.3 560.4 L102.0 560.1 L102.7 558.4 L103.4 558.3 L104.1 558.6 L104.8 557.3 L105.5 557.0 L106.2 557.4 L106.9 556.3 L107.6 556.7 L108.3 555.8 L109.0 555.2 L109.7 554.8 L110.4 553.6 L111.1 553.1 L111.8 553.3 L112.5 550.1 L113.2 550.8 L113.9 547.7 L114.6 547.4 L115.3 545.3 L116.0 545.6 L116.7 543.2 L117.4 540.9 L118.1 538.5 L118.8 536.0 L119.5 534.6 L120.2 533.5 L120.9 529.1 L121.6 527.7 L122.3 525.4 L123.0 529.4 L123.7 528.4 L124.4 529.6 L125.1 528.8 L125.8 531.4 L126.5 532.7 L127.2 536.8 L127.9 542.0 L128.6 544.0 L129.3 545.4 L130.0 550.0 L130.7 552.0 L131.4 554.8 L132.1 558.5 L132.8 560.5 L133.5 563.0 L134.2 564.4 L134.9 566.6 L135.6 566.6 L136.3 566.6 L137.0 566.6 L137.7 566.6 L138.4 566.6 L139.1 566.6 L139.8 566.6 L140.5 566.6 L141.2 566.6 L141.9 566.6 L142.6 566.6 L143.3 566.6 L144.0 566.6 L144.7 566.6 L145.4 566.6 L146.1 566.6" fill="none" stroke="#d8262b" stroke-width="1.1" stroke-linejoin="round"/>
<path d="M43.8 566.6 L44.5 566.6 L45.2 566.6 L45.9 566.6 L46.6 566.6 L47.3 566.6 L48.0 566.6 L48.7 566.6 L49.4 566.6 L50.1 566.6 L50.8 566.6 L51.5 566.6 L52.2 566.6 L52.9 566.6 L53.6 566.6 L54.3 566.6 L55.0 566.6 L55.7 566.6 L56.4 566.6 L57.1 566.6 L57.8 566.6 L58.5 566.6 L59.2 566.6 L59.9 566.6 L60.6 566.6 L61.3 566.6 L62.0 566.6 L62.7 566.6 L63.4 566.6 L64.1 566.6 L64.8 566.6 L65.5 566.6 L66.2 566.6 L66.9 566.6 L67.6 566.6 L68.3 566.6 L69.0 566.6 L69.7 566.6 L70.4 566.6 L71.1 566.6 L71.8 566.6 L72.5 566.6 L73.2 566.6 L73.9 566.6 L74.6 566.6 L75.3 566.6 L76.0 566.6 L76.7 566.6 L77.4 566.6 L78.1 566.6 L78.8 566.6 L79.5 566.6 L80.2 566.6 L80.9 566.6 L81.6 566.6 L82.3 566.6 L83.0 566.6 L83.7 566.6 L84.4 566.6 L85.1 566.6 L85.8 566.6 L86.5 566.6 L87.2 566.6 L87.9 566.6 L88.6 566.6 L89.3 566.6 L90.0 566.6 L90.7 566.6 L91.4 566.6 L92.1 566.6 L92.8 566.6 L93.5 566.6 L94.2 566.6 L94.9 566.6 L95.7 566.6 L96.4 566.6 L97.1 566.6 L97.8 566.6 L98.5 566.6 L99.2 566.6 L99.9 566.6 L100.6 566.6 L101.3 566.6 L102.0 566.6 L102.7 566.6 L103.4 566.6 L104.1 566.6 L104.8 566.6 L105.5 566.6 L106.2 566.6 L106.9 566.6 L107.6 566.6 L108.3 566.6 L109.0 566.6 L109.7 566.6 L110.4 566.6 L111.1 566.6 L111.8 566.6 L112.5 566.6 L113.2 566.6 L113.9 566.6 L114.6 566.6 L115.3 566.6 L116.0 566.6 L116.7 566.6 L117.4 565.9 L118.1 564.4 L118.8 562.1 L119.5 559.4 L120.2 557.0 L120.9 554.1 L121.6 551.9 L122.3 548.4 L123.0 545.8 L123.7 543.1 L124.4 540.5 L125.1 538.0 L125.8 536.8 L126.5 534.9 L127.2 530.7 L127.9 531.9 L128.6 530.2 L129.3 528.9 L130.0 531.1 L130.7 533.7 L131.4 535.8 L132.1 537.5 L132.8 540.7 L133.5 542.4 L134.2 546.7 L134.9 552.3 L135.6 555.9 L136.3 560.3 L137.0 562.7 L137.7 565.6 L138.4 566.6 L139.1 566.6 L139.8 566.6 L140.5 566.6 L141.2 566.6 L141.9 566.6 L142.6 566.6 L143.3 566.6 L144.0 566.6 L144.7 566.6 L145.4 566.6 L146.1 566.6" fill="none" stroke="#1f9e4a" stroke-width="1.0" stroke-linejoin="round"/>
<path d="M43.8 523.1 H146.1 V567.2 H43.8 Z" fill="none" stroke="#111" stroke-width="1.2"/>
<line x1="43.80" y1="567.20" x2="43.80" y2="569.40" stroke="#111" stroke-width="0.8"/>
<line x1="51.50" y1="567.20" x2="51.50" y2="568.50" stroke="#111" stroke-width="0.8"/>
<line x1="56.00" y1="567.20" x2="56.00" y2="568.50" stroke="#111" stroke-width="0.8"/>
<line x1="59.20" y1="567.20" x2="59.20" y2="568.50" stroke="#111" stroke-width="0.8"/>
<line x1="61.68" y1="567.20" x2="61.68" y2="568.50" stroke="#111" stroke-width="0.8"/>
<line x1="63.70" y1="567.20" x2="63.70" y2="568.50" stroke="#111" stroke-width="0.8"/>
<line x1="65.41" y1="567.20" x2="65.41" y2="568.50" stroke="#111" stroke-width="0.8"/>
<line x1="66.90" y1="567.20" x2="66.90" y2="568.50" stroke="#111" stroke-width="0.8"/>
<line x1="68.20" y1="567.20" x2="68.20" y2="568.50" stroke="#111" stroke-width="0.8"/>
<line x1="69.38" y1="567.20" x2="69.38" y2="569.40" stroke="#111" stroke-width="0.8"/>
<line x1="77.07" y1="567.20" x2="77.07" y2="568.50" stroke="#111" stroke-width="0.8"/>
<line x1="81.58" y1="567.20" x2="81.58" y2="568.50" stroke="#111" stroke-width="0.8"/>
<line x1="84.77" y1="567.20" x2="84.77" y2="568.50" stroke="#111" stroke-width="0.8"/>
<line x1="87.25" y1="567.20" x2="87.25" y2="568.50" stroke="#111" stroke-width="0.8"/>
<line x1="89.28" y1="567.20" x2="89.28" y2="568.50" stroke="#111" stroke-width="0.8"/>
<line x1="90.99" y1="567.20" x2="90.99" y2="568.50" stroke="#111" stroke-width="0.8"/>
<line x1="92.47" y1="567.20" x2="92.47" y2="568.50" stroke="#111" stroke-width="0.8"/>
<line x1="93.78" y1="567.20" x2="93.78" y2="568.50" stroke="#111" stroke-width="0.8"/>
<line x1="94.95" y1="567.20" x2="94.95" y2="569.40" stroke="#111" stroke-width="0.8"/>
<line x1="102.65" y1="567.20" x2="102.65" y2="568.50" stroke="#111" stroke-width="0.8"/>
<line x1="107.15" y1="567.20" x2="107.15" y2="568.50" stroke="#111" stroke-width="0.8"/>
<line x1="110.35" y1="567.20" x2="110.35" y2="568.50" stroke="#111" stroke-width="0.8"/>
<line x1="112.83" y1="567.20" x2="112.83" y2="568.50" stroke="#111" stroke-width="0.8"/>
<line x1="114.85" y1="567.20" x2="114.85" y2="568.50" stroke="#111" stroke-width="0.8"/>
<line x1="116.56" y1="567.20" x2="116.56" y2="568.50" stroke="#111" stroke-width="0.8"/>
<line x1="118.05" y1="567.20" x2="118.05" y2="568.50" stroke="#111" stroke-width="0.8"/>
<line x1="119.35" y1="567.20" x2="119.35" y2="568.50" stroke="#111" stroke-width="0.8"/>
<line x1="120.52" y1="567.20" x2="120.52" y2="569.40" stroke="#111" stroke-width="0.8"/>
<line x1="128.22" y1="567.20" x2="128.22" y2="568.50" stroke="#111" stroke-width="0.8"/>
<line x1="132.73" y1="567.20" x2="132.73" y2="568.50" stroke="#111" stroke-width="0.8"/>
<line x1="135.92" y1="567.20" x2="135.92" y2="568.50" stroke="#111" stroke-width="0.8"/>
<line x1="138.40" y1="567.20" x2="138.40" y2="568.50" stroke="#111" stroke-width="0.8"/>
<line x1="140.43" y1="567.20" x2="140.43" y2="568.50" stroke="#111" stroke-width="0.8"/>
<line x1="142.14" y1="567.20" x2="142.14" y2="568.50" stroke="#111" stroke-width="0.8"/>
<line x1="143.62" y1="567.20" x2="143.62" y2="568.50" stroke="#111" stroke-width="0.8"/>
<line x1="144.93" y1="567.20" x2="144.93" y2="568.50" stroke="#111" stroke-width="0.8"/>
<text x="41.10" y="578.20" font-size="6.6" text-anchor="start" fill="#111">10</text>
<text x="47.90" y="576.20" font-size="4.6" text-anchor="start" fill="#111">0</text>
<text x="67.47" y="578.20" font-size="6.6" text-anchor="start" fill="#111">10</text>
<text x="74.28" y="576.20" font-size="4.6" text-anchor="start" fill="#111">1</text>
<text x="93.75" y="578.20" font-size="6.6" text-anchor="start" fill="#111">10</text>
<text x="100.55" y="576.20" font-size="4.6" text-anchor="start" fill="#111">2</text>
<text x="119.92" y="578.20" font-size="6.6" text-anchor="start" fill="#111">10</text>
<text x="126.72" y="576.20" font-size="4.6" text-anchor="start" fill="#111">3</text>
<text x="143.20" y="578.20" font-size="6.6" text-anchor="start" fill="#111">10</text>
<text x="150.00" y="576.20" font-size="4.6" text-anchor="start" fill="#111">4</text>
<line x1="43.80" y1="581.20" x2="140.10" y2="581.20" stroke="#111" stroke-width="1.3"/>
<path d="M137.6 578.5 L147.6 581.2 L137.6 583.9 Z" fill="#111"/>
<text x="94.95" y="591.80" font-size="8.8" text-anchor="middle" fill="#111">CD86</text>
<path d="M157.5 553.8 L158.2 552.9 L158.9 554.4 L159.6 554.4 L160.3 553.6 L161.0 553.8 L161.7 553.8 L162.4 552.7 L163.1 554.4 L163.8 553.3 L164.5 552.3 L165.2 552.2 L165.9 551.9 L166.6 552.9 L167.3 552.5 L168.0 552.8 L168.7 553.0 L169.4 553.4 L170.1 551.6 L170.8 551.4 L171.5 551.9 L172.2 552.3 L172.9 552.0 L173.6 551.6 L174.3 551.2 L175.0 550.2 L175.7 550.6 L176.4 550.3 L177.1 549.6 L177.8 548.7 L178.5 546.3 L179.2 545.3 L179.9 547.3 L180.6 543.6 L181.3 544.2 L182.0 544.4 L182.7 545.0 L183.4 548.2 L184.1 549.7 L184.8 551.8 L185.5 553.3 L186.2 556.0 L186.9 557.7 L187.6 559.0 L188.3 560.9 L189.0 561.8 L189.7 563.6 L190.4 563.8 L191.1 564.5 L191.8 565.5 L192.5 566.6 L193.2 566.6 L193.9 566.6 L194.6 566.6 L195.3 566.6 L196.0 566.6 L196.7 566.6 L197.4 566.6 L198.1 566.6 L198.8 566.6 L199.5 566.6 L200.2 566.6 L200.9 566.6 L201.6 566.6 L202.3 566.6 L203.0 566.6 L203.7 566.6 L204.4 566.6 L205.1 566.6 L205.8 566.6 L206.5 566.6 L207.2 566.6 L207.9 566.6 L208.6 566.6 L209.3 566.6 L210.0 566.6 L210.7 566.6 L211.4 566.6 L212.1 566.6 L212.8 566.6 L213.5 566.6 L214.2 566.6 L214.9 566.6 L215.6 566.6 L216.3 566.6 L217.0 566.6 L217.7 566.6 L218.4 566.6 L219.1 566.6 L219.8 566.6 L220.5 566.6 L221.2 566.6 L221.9 566.6 L222.6 566.6 L223.3 566.6 L224.0 566.6 L224.7 566.6 L225.4 566.6 L226.1 566.6 L226.8 566.6 L227.5 566.6 L228.2 566.6 L228.9 566.6 L229.6 566.6 L230.3 566.6 L231.0 566.6 L231.7 566.6 L232.4 566.6 L233.1 566.6 L233.8 566.6 L234.5 566.6 L235.2 566.6 L235.9 566.6 L236.6 566.6 L237.3 566.6 L238.0 566.6 L238.7 566.6 L239.4 566.6 L240.1 566.6 L240.8 566.6 L241.5 566.6 L242.2 566.6 L242.9 566.6 L243.6 566.6 L244.3 566.6 L245.0 566.6 L245.7 566.6 L246.4 566.6 L247.1 566.6 L247.8 566.6 L248.5 566.6 L249.2 566.6 L249.9 566.6 L250.6 566.6 L251.3 566.6 L252.0 566.6 L252.7 566.6 L253.4 566.6 L254.1 566.6 L254.8 566.6 L255.5 566.6 L256.2 566.6 L256.9 566.6 L257.6 566.6 L258.3 566.6 L259.0 566.6 L259.0 567.2 L157.5 567.2 Z" fill="#f9cf9f" stroke="none"/>
<path d="M157.5 553.8 L158.2 552.9 L158.9 554.4 L159.6 554.4 L160.3 553.6 L161.0 553.8 L161.7 553.8 L162.4 552.7 L163.1 554.4 L163.8 553.3 L164.5 552.3 L165.2 552.2 L165.9 551.9 L166.6 552.9 L167.3 552.5 L168.0 552.8 L168.7 553.0 L169.4 553.4 L170.1 551.6 L170.8 551.4 L171.5 551.9 L172.2 552.3 L172.9 552.0 L173.6 551.6 L174.3 551.2 L175.0 550.2 L175.7 550.6 L176.4 550.3 L177.1 549.6 L177.8 548.7 L178.5 546.3 L179.2 545.3 L179.9 547.3 L180.6 543.6 L181.3 544.2 L182.0 544.4 L182.7 545.0 L183.4 548.2 L184.1 549.7 L184.8 551.8 L185.5 553.3 L186.2 556.0 L186.9 557.7 L187.6 559.0 L188.3 560.9 L189.0 561.8 L189.7 563.6 L190.4 563.8 L191.1 564.5 L191.8 565.5 L192.5 566.6 L193.2 566.6 L193.9 566.6 L194.6 566.6 L195.3 566.6 L196.0 566.6 L196.7 566.6 L197.4 566.6 L198.1 566.6 L198.8 566.6 L199.5 566.6 L200.2 566.6 L200.9 566.6 L201.6 566.6 L202.3 566.6 L203.0 566.6 L203.7 566.6 L204.4 566.6 L205.1 566.6 L205.8 566.6 L206.5 566.6 L207.2 566.6 L207.9 566.6 L208.6 566.6 L209.3 566.6 L210.0 566.6 L210.7 566.6 L211.4 566.6 L212.1 566.6 L212.8 566.6 L213.5 566.6 L214.2 566.6 L214.9 566.6 L215.6 566.6 L216.3 566.6 L217.0 566.6 L217.7 566.6 L218.4 566.6 L219.1 566.6 L219.8 566.6 L220.5 566.6 L221.2 566.6 L221.9 566.6 L222.6 566.6 L223.3 566.6 L224.0 566.6 L224.7 566.6 L225.4 566.6 L226.1 566.6 L226.8 566.6 L227.5 566.6 L228.2 566.6 L228.9 566.6 L229.6 566.6 L230.3 566.6 L231.0 566.6 L231.7 566.6 L232.4 566.6 L233.1 566.6 L233.8 566.6 L234.5 566.6 L235.2 566.6 L235.9 566.6 L236.6 566.6 L237.3 566.6 L238.0 566.6 L238.7 566.6 L239.4 566.6 L240.1 566.6 L240.8 566.6 L241.5 566.6 L242.2 566.6 L242.9 566.6 L243.6 566.6 L244.3 566.6 L245.0 566.6 L245.7 566.6 L246.4 566.6 L247.1 566.6 L247.8 566.6 L248.5 566.6 L249.2 566.6 L249.9 566.6 L250.6 566.6 L251.3 566.6 L252.0 566.6 L252.7 566.6 L253.4 566.6 L254.1 566.6 L254.8 566.6 L255.5 566.6 L256.2 566.6 L256.9 566.6 L257.6 566.6 L258.3 566.6 L259.0 566.6" fill="none" stroke="#4a3a30" stroke-width="1.0" stroke-linejoin="round"/>
<path d="M157.5 565.5 L158.2 565.2 L158.9 566.1 L159.6 565.5 L160.3 565.5 L161.0 565.4 L161.7 566.1 L162.4 565.9 L163.1 565.4 L163.8 566.2 L164.5 565.5 L165.2 565.6 L165.9 566.0 L166.6 566.2 L167.3 565.8 L168.0 565.8 L168.7 565.2 L169.4 566.2 L170.1 565.6 L170.8 566.3 L171.5 565.7 L172.2 565.8 L172.9 565.4 L173.6 566.3 L174.3 566.2 L175.0 566.4 L175.7 566.2 L176.4 566.3 L177.1 565.5 L177.8 565.8 L178.5 565.8 L179.2 566.3 L179.9 566.1 L180.6 565.1 L181.3 566.2 L182.0 565.6 L182.7 565.5 L183.4 565.8 L184.1 565.7 L184.8 566.0 L185.5 566.2 L186.2 565.8 L186.9 565.9 L187.6 566.0 L188.3 565.6 L189.0 565.2 L189.7 566.1 L190.4 566.2 L191.1 566.1 L191.8 566.0 L192.5 565.6 L193.2 566.0 L193.9 565.9 L194.6 565.6 L195.3 565.4 L196.0 565.0 L196.7 564.5 L197.4 563.0 L198.1 562.2 L198.8 560.6 L199.5 559.4 L200.2 558.9 L200.9 558.0 L201.6 555.6 L202.3 554.5 L203.0 552.0 L203.7 550.0 L204.4 549.0 L205.1 547.2 L205.8 546.0 L206.5 544.3 L207.2 543.7 L207.9 542.5 L208.6 542.2 L209.3 541.3 L210.0 543.2 L210.7 543.2 L211.4 541.7 L212.1 544.6 L212.8 543.4 L213.5 545.4 L214.2 546.2 L214.9 547.5 L215.6 550.3 L216.3 552.2 L217.0 554.8 L217.7 556.6 L218.4 557.7 L219.1 559.4 L219.8 560.5 L220.5 562.3 L221.2 564.5 L221.9 565.7 L222.6 566.6 L223.3 566.6 L224.0 566.6 L224.7 566.6 L225.4 566.6 L226.1 566.6 L226.8 566.6 L227.5 566.6 L228.2 566.6 L228.9 566.6 L229.6 566.6 L230.3 566.6 L231.0 566.6 L231.7 566.6 L232.4 566.6 L233.1 566.6 L233.8 566.6 L234.5 566.6 L235.2 566.6 L235.9 566.6 L236.6 566.6 L237.3 566.6 L238.0 566.6 L238.7 566.6 L239.4 566.6 L240.1 566.6 L240.8 566.6 L241.5 566.6 L242.2 566.6 L242.9 566.6 L243.6 566.6 L244.3 566.6 L245.0 566.6 L245.7 566.6 L246.4 566.6 L247.1 566.6 L247.8 566.6 L248.5 566.6 L249.2 566.6 L249.9 566.6 L250.6 566.6 L251.3 566.6 L252.0 566.6 L252.7 566.6 L253.4 566.6 L254.1 566.6 L254.8 566.6 L255.5 566.6 L256.2 566.6 L256.9 566.6 L257.6 566.6 L258.3 566.6 L259.0 566.6" fill="none" stroke="#2b3c9c" stroke-width="1.1" stroke-linejoin="round"/>
<path d="M157.5 566.3 L158.2 566.2 L158.9 566.3 L159.6 565.5 L160.3 565.1 L161.0 566.0 L161.7 566.0 L162.4 566.1 L163.1 565.2 L163.8 566.1 L164.5 565.7 L165.2 565.8 L165.9 566.3 L166.6 565.9 L167.3 565.2 L168.0 565.8 L168.7 565.1 L169.4 565.2 L170.1 566.2 L170.8 565.2 L171.5 565.4 L172.2 565.8 L172.9 566.2 L173.6 566.4 L174.3 565.3 L175.0 565.9 L175.7 566.2 L176.4 565.9 L177.1 566.0 L177.8 565.9 L178.5 565.9 L179.2 566.3 L179.9 565.3 L180.6 566.2 L181.3 565.9 L182.0 565.2 L182.7 566.0 L183.4 565.3 L184.1 566.1 L184.8 565.8 L185.5 566.3 L186.2 565.3 L186.9 565.8 L187.6 565.6 L188.3 566.0 L189.0 566.4 L189.7 565.6 L190.4 565.9 L191.1 565.5 L191.8 566.0 L192.5 565.3 L193.2 565.2 L193.9 565.6 L194.6 565.9 L195.3 566.2 L196.0 564.9 L196.7 564.1 L197.4 563.8 L198.1 562.6 L198.8 561.9 L199.5 561.5 L200.2 559.4 L200.9 558.8 L201.6 558.2 L202.3 556.5 L203.0 555.4 L203.7 552.6 L204.4 550.8 L205.1 549.4 L205.8 548.5 L206.5 546.7 L207.2 543.9 L207.9 543.8 L208.6 542.9 L209.3 543.2 L210.0 542.3 L210.7 541.1 L211.4 541.1 L212.1 539.2 L212.8 537.3 L213.5 537.9 L214.2 541.0 L214.9 541.7 L215.6 544.2 L216.3 544.9 L217.0 548.2 L217.7 549.8 L218.4 550.8 L219.1 553.5 L219.8 557.2 L220.5 559.2 L221.2 561.6 L221.9 563.0 L222.6 563.9 L223.3 565.0 L224.0 565.8 L224.7 566.6 L225.4 566.6 L226.1 566.6 L226.8 566.6 L227.5 566.6 L228.2 566.6 L228.9 566.6 L229.6 566.6 L230.3 566.6 L231.0 566.6 L231.7 566.6 L232.4 566.6 L233.1 566.6 L233.8 566.6 L234.5 566.6 L235.2 566.6 L235.9 566.6 L236.6 566.6 L237.3 566.6 L238.0 566.6 L238.7 566.6 L239.4 566.6 L240.1 566.6 L240.8 566.6 L241.5 566.6 L242.2 566.6 L242.9 566.6 L243.6 566.6 L244.3 566.6 L245.0 566.6 L245.7 566.6 L246.4 566.6 L247.1 566.6 L247.8 566.6 L248.5 566.6 L249.2 566.6 L249.9 566.6 L250.6 566.6 L251.3 566.6 L252.0 566.6 L252.7 566.6 L253.4 566.6 L254.1 566.6 L254.8 566.6 L255.5 566.6 L256.2 566.6 L256.9 566.6 L257.6 566.6 L258.3 566.6 L259.0 566.6" fill="none" stroke="#d8262b" stroke-width="1.1" stroke-linejoin="round"/>
<path d="M157.5 565.6 L158.2 565.6 L158.9 565.3 L159.6 565.4 L160.3 565.8 L161.0 566.0 L161.7 565.7 L162.4 564.9 L163.1 565.0 L163.8 565.2 L164.5 565.6 L165.2 565.7 L165.9 565.7 L166.6 565.1 L167.3 565.6 L168.0 564.9 L168.7 566.1 L169.4 565.0 L170.1 565.4 L170.8 565.9 L171.5 565.5 L172.2 565.2 L172.9 566.0 L173.6 565.4 L174.3 565.4 L175.0 565.4 L175.7 565.4 L176.4 565.9 L177.1 565.6 L177.8 565.4 L178.5 565.5 L179.2 565.4 L179.9 565.0 L180.6 565.0 L181.3 565.9 L182.0 565.9 L182.7 565.3 L183.4 565.8 L184.1 564.8 L184.8 565.8 L185.5 565.7 L186.2 566.0 L186.9 564.8 L187.6 565.8 L188.3 565.9 L189.0 565.0 L189.7 565.9 L190.4 565.8 L191.1 564.7 L191.8 565.8 L192.5 565.5 L193.2 565.9 L193.9 565.0 L194.6 565.0 L195.3 565.6 L196.0 566.0 L196.7 565.2 L197.4 566.1 L198.1 565.9 L198.8 565.0 L199.5 564.8 L200.2 563.6 L200.9 562.9 L201.6 562.2 L202.3 561.8 L203.0 561.2 L203.7 560.2 L204.4 560.1 L205.1 558.8 L205.8 559.3 L206.5 558.2 L207.2 557.2 L207.9 555.8 L208.6 553.4 L209.3 552.8 L210.0 551.1 L210.7 549.1 L211.4 547.8 L212.1 544.9 L212.8 545.3 L213.5 542.2 L214.2 541.7 L214.9 539.9 L215.6 539.7 L216.3 537.9 L217.0 538.2 L217.7 537.7 L218.4 537.7 L219.1 542.0 L219.8 540.4 L220.5 541.6 L221.2 544.0 L221.9 547.0 L222.6 548.8 L223.3 550.6 L224.0 553.7 L224.7 556.3 L225.4 558.6 L226.1 559.3 L226.8 560.4 L227.5 562.2 L228.2 563.7 L228.9 566.2 L229.6 566.6 L230.3 566.6 L231.0 566.6 L231.7 566.6 L232.4 566.6 L233.1 566.6 L233.8 566.6 L234.5 566.6 L235.2 566.6 L235.9 566.6 L236.6 566.6 L237.3 566.6 L238.0 566.6 L238.7 566.6 L239.4 566.6 L240.1 566.6 L240.8 566.6 L241.5 566.6 L242.2 566.6 L242.9 566.6 L243.6 566.6 L244.3 566.6 L245.0 566.6 L245.7 566.6 L246.4 566.6 L247.1 566.6 L247.8 566.6 L248.5 566.6 L249.2 566.6 L249.9 566.6 L250.6 566.6 L251.3 566.6 L252.0 566.6 L252.7 566.6 L253.4 566.6 L254.1 566.6 L254.8 566.6 L255.5 566.6 L256.2 566.6 L256.9 566.6 L257.6 566.6 L258.3 566.6 L259.0 566.6" fill="none" stroke="#1f9e4a" stroke-width="1.0" stroke-linejoin="round"/>
<path d="M157.5 523.1 H259.0 V567.2 H157.5 Z" fill="none" stroke="#111" stroke-width="1.2"/>
<line x1="157.50" y1="567.20" x2="157.50" y2="569.40" stroke="#111" stroke-width="0.8"/>
<line x1="165.14" y1="567.20" x2="165.14" y2="568.50" stroke="#111" stroke-width="0.8"/>
<line x1="169.61" y1="567.20" x2="169.61" y2="568.50" stroke="#111" stroke-width="0.8"/>
<line x1="172.78" y1="567.20" x2="172.78" y2="568.50" stroke="#111" stroke-width="0.8"/>
<line x1="175.24" y1="567.20" x2="175.24" y2="568.50" stroke="#111" stroke-width="0.8"/>
<line x1="177.25" y1="567.20" x2="177.25" y2="568.50" stroke="#111" stroke-width="0.8"/>
<line x1="178.94" y1="567.20" x2="178.94" y2="568.50" stroke="#111" stroke-width="0.8"/>
<line x1="180.42" y1="567.20" x2="180.42" y2="568.50" stroke="#111" stroke-width="0.8"/>
<line x1="181.71" y1="567.20" x2="181.71" y2="568.50" stroke="#111" stroke-width="0.8"/>
<line x1="182.88" y1="567.20" x2="182.88" y2="569.40" stroke="#111" stroke-width="0.8"/>
<line x1="190.51" y1="567.20" x2="190.51" y2="568.50" stroke="#111" stroke-width="0.8"/>
<line x1="194.98" y1="567.20" x2="194.98" y2="568.50" stroke="#111" stroke-width="0.8"/>
<line x1="198.15" y1="567.20" x2="198.15" y2="568.50" stroke="#111" stroke-width="0.8"/>
<line x1="200.61" y1="567.20" x2="200.61" y2="568.50" stroke="#111" stroke-width="0.8"/>
<line x1="202.62" y1="567.20" x2="202.62" y2="568.50" stroke="#111" stroke-width="0.8"/>
<line x1="204.32" y1="567.20" x2="204.32" y2="568.50" stroke="#111" stroke-width="0.8"/>
<line x1="205.79" y1="567.20" x2="205.79" y2="568.50" stroke="#111" stroke-width="0.8"/>
<line x1="207.09" y1="567.20" x2="207.09" y2="568.50" stroke="#111" stroke-width="0.8"/>
<line x1="208.25" y1="567.20" x2="208.25" y2="569.40" stroke="#111" stroke-width="0.8"/>
<line x1="215.89" y1="567.20" x2="215.89" y2="568.50" stroke="#111" stroke-width="0.8"/>
<line x1="220.36" y1="567.20" x2="220.36" y2="568.50" stroke="#111" stroke-width="0.8"/>
<line x1="223.53" y1="567.20" x2="223.53" y2="568.50" stroke="#111" stroke-width="0.8"/>
<line x1="225.99" y1="567.20" x2="225.99" y2="568.50" stroke="#111" stroke-width="0.8"/>
<line x1="228.00" y1="567.20" x2="228.00" y2="568.50" stroke="#111" stroke-width="0.8"/>
<line x1="229.69" y1="567.20" x2="229.69" y2="568.50" stroke="#111" stroke-width="0.8"/>
<line x1="231.17" y1="567.20" x2="231.17" y2="568.50" stroke="#111" stroke-width="0.8"/>
<line x1="232.46" y1="567.20" x2="232.46" y2="568.50" stroke="#111" stroke-width="0.8"/>
<line x1="233.62" y1="567.20" x2="233.62" y2="569.40" stroke="#111" stroke-width="0.8"/>
<line x1="241.26" y1="567.20" x2="241.26" y2="568.50" stroke="#111" stroke-width="0.8"/>
<line x1="245.73" y1="567.20" x2="245.73" y2="568.50" stroke="#111" stroke-width="0.8"/>
<line x1="248.90" y1="567.20" x2="248.90" y2="568.50" stroke="#111" stroke-width="0.8"/>
<line x1="251.36" y1="567.20" x2="251.36" y2="568.50" stroke="#111" stroke-width="0.8"/>
<line x1="253.37" y1="567.20" x2="253.37" y2="568.50" stroke="#111" stroke-width="0.8"/>
<line x1="255.07" y1="567.20" x2="255.07" y2="568.50" stroke="#111" stroke-width="0.8"/>
<line x1="256.54" y1="567.20" x2="256.54" y2="568.50" stroke="#111" stroke-width="0.8"/>
<line x1="257.84" y1="567.20" x2="257.84" y2="568.50" stroke="#111" stroke-width="0.8"/>
<text x="154.80" y="578.20" font-size="6.6" text-anchor="start" fill="#111">10</text>
<text x="161.60" y="576.20" font-size="4.6" text-anchor="start" fill="#111">0</text>
<text x="180.97" y="578.20" font-size="6.6" text-anchor="start" fill="#111">10</text>
<text x="187.78" y="576.20" font-size="4.6" text-anchor="start" fill="#111">1</text>
<text x="207.05" y="578.20" font-size="6.6" text-anchor="start" fill="#111">10</text>
<text x="213.85" y="576.20" font-size="4.6" text-anchor="start" fill="#111">2</text>
<text x="233.03" y="578.20" font-size="6.6" text-anchor="start" fill="#111">10</text>
<text x="239.83" y="576.20" font-size="4.6" text-anchor="start" fill="#111">3</text>
<text x="256.10" y="578.20" font-size="6.6" text-anchor="start" fill="#111">10</text>
<text x="262.90" y="576.20" font-size="4.6" text-anchor="start" fill="#111">4</text>
<line x1="157.50" y1="581.20" x2="253.00" y2="581.20" stroke="#111" stroke-width="1.3"/>
<path d="M250.5 578.5 L260.5 581.2 L250.5 583.9 Z" fill="#111"/>
<text x="208.25" y="591.80" font-size="8.8" text-anchor="middle" fill="#111">CCR7</text>
<text x="37.20" y="470.00" font-size="8.8" text-anchor="middle" fill="#111" transform="rotate(-90 37.2 470.0)">Cell count</text>
<text x="37.20" y="545.00" font-size="8.8" text-anchor="middle" fill="#111" transform="rotate(-90 37.2 545.0)">Cell count</text>
</svg>
</body></html>
